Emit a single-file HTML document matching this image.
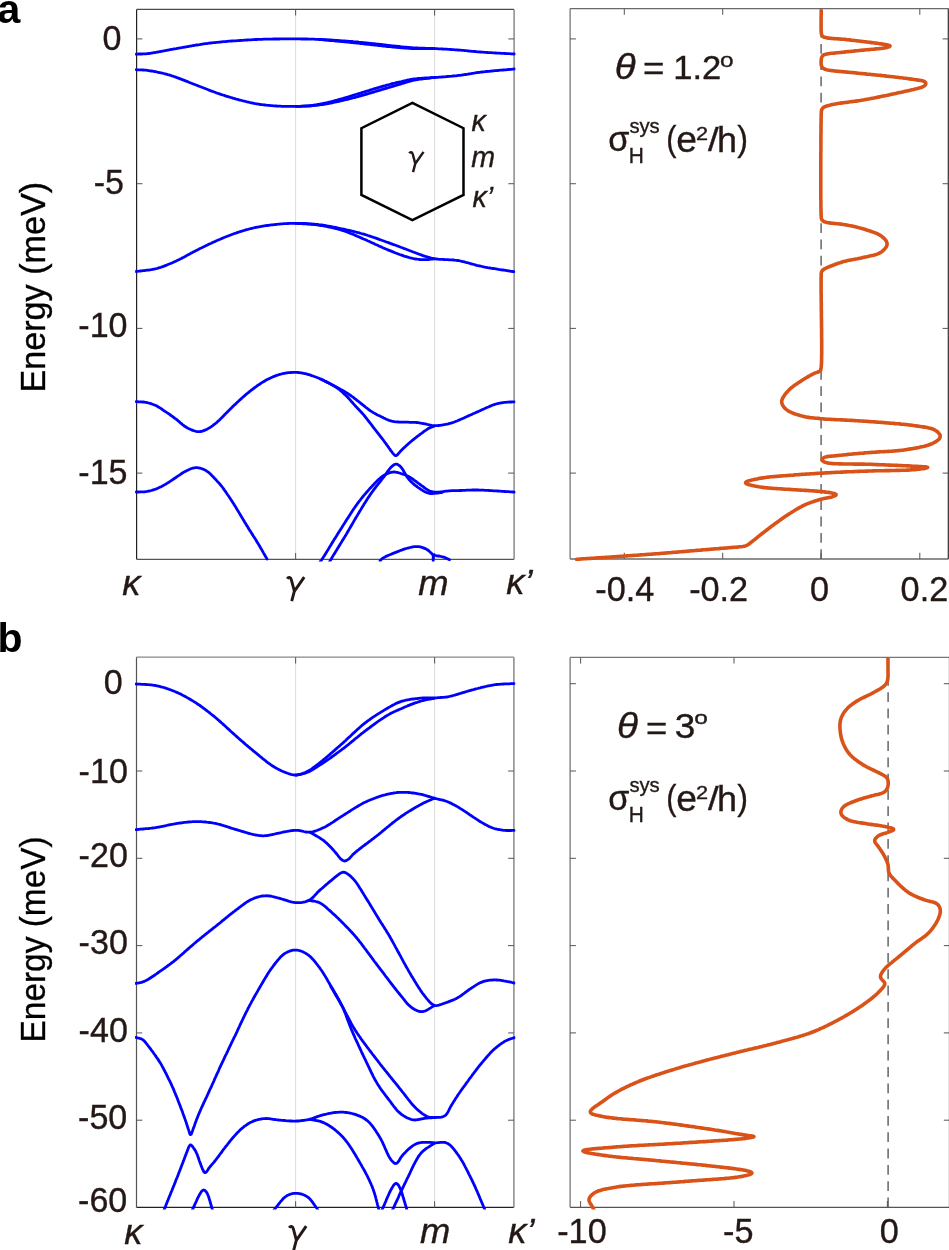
<!DOCTYPE html>
<html><head><meta charset="utf-8"><style>
html,body{margin:0;padding:0;background:#fff;}
svg{display:block;will-change:transform;}
text{font-family:"Liberation Sans",sans-serif;fill:#231815;stroke:#231815;stroke-width:0.35px;}
</style></head><body>
<svg width="949" height="1250" viewBox="0 0 949 1250">
<defs><clipPath id="clipAL"><rect x="135.1" y="10.0" width="380.5" height="551.4"/></clipPath><clipPath id="clipAR"><rect x="568.6" y="9.2" width="381.29999999999995" height="551.9"/></clipPath><clipPath id="clipBL"><rect x="135.0" y="657.8000000000001" width="380.4" height="551.7"/></clipPath><clipPath id="clipBR"><rect x="568.6" y="658.0" width="382.5" height="551.4"/></clipPath></defs>
<rect width="949" height="1250" fill="#fff"/>
<line x1="295.6" y1="9.4" x2="295.6" y2="559.3" stroke="#dcdcdc" stroke-width="1"/>
<line x1="434.6" y1="9.4" x2="434.6" y2="559.3" stroke="#dcdcdc" stroke-width="1"/>
<line x1="295.6" y1="657.2" x2="295.6" y2="1207.4" stroke="#dcdcdc" stroke-width="1"/>
<line x1="434.6" y1="657.2" x2="434.6" y2="1207.4" stroke="#dcdcdc" stroke-width="1"/>
<line x1="821.1" y1="559.0" x2="821.1" y2="8.6" stroke="#5a5a5a" stroke-width="1.4" stroke-dasharray="9.8,6.5"/>
<line x1="888.1" y1="1207.3" x2="888.1" y2="657.4" stroke="#5a5a5a" stroke-width="1.4" stroke-dasharray="9.8,6.5"/>
<line x1="136.6" y1="9.4" x2="514.1" y2="9.4" stroke="#4a4a4a" stroke-width="1.2"/>
<line x1="136.6" y1="559.3" x2="514.1" y2="559.3" stroke="#555" stroke-width="1.3"/>
<line x1="514.1" y1="9.4" x2="514.1" y2="559.3" stroke="#8a8a8a" stroke-width="1.5"/>
<line x1="136.6" y1="9.4" x2="136.6" y2="559.3" stroke="#222" stroke-width="1.2"/>
<line x1="570.1" y1="8.6" x2="948.4" y2="8.6" stroke="#6a6a6a" stroke-width="1.2"/>
<line x1="570.1" y1="559.0" x2="948.4" y2="559.0" stroke="#6a6a6a" stroke-width="1.3"/>
<line x1="948.4" y1="8.6" x2="948.4" y2="559.0" stroke="#444" stroke-width="1.5"/>
<line x1="570.1" y1="8.6" x2="570.1" y2="559.0" stroke="#6a6a6a" stroke-width="1.2"/>
<line x1="136.5" y1="657.2" x2="513.9" y2="657.2" stroke="#888" stroke-width="1.2"/>
<line x1="136.5" y1="1207.4" x2="513.9" y2="1207.4" stroke="#222" stroke-width="1.3"/>
<line x1="513.9" y1="657.2" x2="513.9" y2="1207.4" stroke="#888" stroke-width="1.5"/>
<line x1="136.5" y1="657.2" x2="136.5" y2="1207.4" stroke="#555" stroke-width="1.2"/>
<line x1="570.1" y1="657.4" x2="949.6" y2="657.4" stroke="#777" stroke-width="1.2"/>
<line x1="570.1" y1="1207.3" x2="949.6" y2="1207.3" stroke="#555" stroke-width="1.3"/>
<line x1="949.6" y1="657.4" x2="949.6" y2="1207.3" stroke="#555" stroke-width="1.5"/>
<line x1="570.1" y1="657.4" x2="570.1" y2="1207.3" stroke="#6a6a6a" stroke-width="1.2"/>
<line x1="136.6" y1="38.9" x2="142.4" y2="38.9" stroke="#5a5a5a" stroke-width="1.05"/>
<line x1="514.1" y1="38.9" x2="508.3" y2="38.9" stroke="#5a5a5a" stroke-width="1.05"/>
<line x1="136.6" y1="183.7" x2="142.4" y2="183.7" stroke="#5a5a5a" stroke-width="1.05"/>
<line x1="514.1" y1="183.7" x2="508.3" y2="183.7" stroke="#5a5a5a" stroke-width="1.05"/>
<line x1="136.6" y1="328.4" x2="142.4" y2="328.4" stroke="#5a5a5a" stroke-width="1.05"/>
<line x1="514.1" y1="328.4" x2="508.3" y2="328.4" stroke="#5a5a5a" stroke-width="1.05"/>
<line x1="136.6" y1="473.1" x2="142.4" y2="473.1" stroke="#5a5a5a" stroke-width="1.05"/>
<line x1="514.1" y1="473.1" x2="508.3" y2="473.1" stroke="#5a5a5a" stroke-width="1.05"/>
<line x1="570.1" y1="38.9" x2="575.9" y2="38.9" stroke="#5a5a5a" stroke-width="1.05"/>
<line x1="948.4" y1="38.9" x2="942.6" y2="38.9" stroke="#5a5a5a" stroke-width="1.05"/>
<line x1="570.1" y1="183.7" x2="575.9" y2="183.7" stroke="#5a5a5a" stroke-width="1.05"/>
<line x1="948.4" y1="183.7" x2="942.6" y2="183.7" stroke="#5a5a5a" stroke-width="1.05"/>
<line x1="570.1" y1="328.4" x2="575.9" y2="328.4" stroke="#5a5a5a" stroke-width="1.05"/>
<line x1="948.4" y1="328.4" x2="942.6" y2="328.4" stroke="#5a5a5a" stroke-width="1.05"/>
<line x1="570.1" y1="473.1" x2="575.9" y2="473.1" stroke="#5a5a5a" stroke-width="1.05"/>
<line x1="948.4" y1="473.1" x2="942.6" y2="473.1" stroke="#5a5a5a" stroke-width="1.05"/>
<line x1="295.6" y1="9.4" x2="295.6" y2="15.600000000000001" stroke="#5a5a5a" stroke-width="1.05"/>
<line x1="295.6" y1="559.3" x2="295.6" y2="553.0999999999999" stroke="#5a5a5a" stroke-width="1.05"/>
<line x1="434.6" y1="9.4" x2="434.6" y2="15.600000000000001" stroke="#5a5a5a" stroke-width="1.05"/>
<line x1="434.6" y1="559.3" x2="434.6" y2="553.0999999999999" stroke="#5a5a5a" stroke-width="1.05"/>
<line x1="624.3" y1="8.6" x2="624.3" y2="14.8" stroke="#5a5a5a" stroke-width="1.05"/>
<line x1="624.3" y1="559.0" x2="624.3" y2="552.8" stroke="#5a5a5a" stroke-width="1.05"/>
<line x1="722.7" y1="8.6" x2="722.7" y2="14.8" stroke="#5a5a5a" stroke-width="1.05"/>
<line x1="722.7" y1="559.0" x2="722.7" y2="552.8" stroke="#5a5a5a" stroke-width="1.05"/>
<line x1="821.0" y1="8.6" x2="821.0" y2="14.8" stroke="#5a5a5a" stroke-width="1.05"/>
<line x1="821.0" y1="559.0" x2="821.0" y2="552.8" stroke="#5a5a5a" stroke-width="1.05"/>
<line x1="919.8" y1="8.6" x2="919.8" y2="14.8" stroke="#5a5a5a" stroke-width="1.05"/>
<line x1="919.8" y1="559.0" x2="919.8" y2="552.8" stroke="#5a5a5a" stroke-width="1.05"/>
<line x1="136.5" y1="683.7" x2="142.3" y2="683.7" stroke="#5a5a5a" stroke-width="1.05"/>
<line x1="513.9" y1="683.7" x2="508.09999999999997" y2="683.7" stroke="#5a5a5a" stroke-width="1.05"/>
<line x1="136.5" y1="771.0" x2="142.3" y2="771.0" stroke="#5a5a5a" stroke-width="1.05"/>
<line x1="513.9" y1="771.0" x2="508.09999999999997" y2="771.0" stroke="#5a5a5a" stroke-width="1.05"/>
<line x1="136.5" y1="858.3" x2="142.3" y2="858.3" stroke="#5a5a5a" stroke-width="1.05"/>
<line x1="513.9" y1="858.3" x2="508.09999999999997" y2="858.3" stroke="#5a5a5a" stroke-width="1.05"/>
<line x1="136.5" y1="945.6" x2="142.3" y2="945.6" stroke="#5a5a5a" stroke-width="1.05"/>
<line x1="513.9" y1="945.6" x2="508.09999999999997" y2="945.6" stroke="#5a5a5a" stroke-width="1.05"/>
<line x1="136.5" y1="1032.9" x2="142.3" y2="1032.9" stroke="#5a5a5a" stroke-width="1.05"/>
<line x1="513.9" y1="1032.9" x2="508.09999999999997" y2="1032.9" stroke="#5a5a5a" stroke-width="1.05"/>
<line x1="136.5" y1="1120.2" x2="142.3" y2="1120.2" stroke="#5a5a5a" stroke-width="1.05"/>
<line x1="513.9" y1="1120.2" x2="508.09999999999997" y2="1120.2" stroke="#5a5a5a" stroke-width="1.05"/>
<line x1="570.1" y1="683.7" x2="575.9" y2="683.7" stroke="#5a5a5a" stroke-width="1.05"/>
<line x1="949.6" y1="683.7" x2="943.8000000000001" y2="683.7" stroke="#5a5a5a" stroke-width="1.05"/>
<line x1="570.1" y1="771.0" x2="575.9" y2="771.0" stroke="#5a5a5a" stroke-width="1.05"/>
<line x1="949.6" y1="771.0" x2="943.8000000000001" y2="771.0" stroke="#5a5a5a" stroke-width="1.05"/>
<line x1="570.1" y1="858.3" x2="575.9" y2="858.3" stroke="#5a5a5a" stroke-width="1.05"/>
<line x1="949.6" y1="858.3" x2="943.8000000000001" y2="858.3" stroke="#5a5a5a" stroke-width="1.05"/>
<line x1="570.1" y1="945.6" x2="575.9" y2="945.6" stroke="#5a5a5a" stroke-width="1.05"/>
<line x1="949.6" y1="945.6" x2="943.8000000000001" y2="945.6" stroke="#5a5a5a" stroke-width="1.05"/>
<line x1="570.1" y1="1032.9" x2="575.9" y2="1032.9" stroke="#5a5a5a" stroke-width="1.05"/>
<line x1="949.6" y1="1032.9" x2="943.8000000000001" y2="1032.9" stroke="#5a5a5a" stroke-width="1.05"/>
<line x1="570.1" y1="1120.2" x2="575.9" y2="1120.2" stroke="#5a5a5a" stroke-width="1.05"/>
<line x1="949.6" y1="1120.2" x2="943.8000000000001" y2="1120.2" stroke="#5a5a5a" stroke-width="1.05"/>
<line x1="295.6" y1="657.2" x2="295.6" y2="663.4000000000001" stroke="#5a5a5a" stroke-width="1.05"/>
<line x1="295.6" y1="1207.4" x2="295.6" y2="1201.2" stroke="#5a5a5a" stroke-width="1.05"/>
<line x1="434.6" y1="657.2" x2="434.6" y2="663.4000000000001" stroke="#5a5a5a" stroke-width="1.05"/>
<line x1="434.6" y1="1207.4" x2="434.6" y2="1201.2" stroke="#5a5a5a" stroke-width="1.05"/>
<line x1="580.6" y1="657.4" x2="580.6" y2="663.6" stroke="#5a5a5a" stroke-width="1.05"/>
<line x1="580.6" y1="1207.3" x2="580.6" y2="1201.1" stroke="#5a5a5a" stroke-width="1.05"/>
<line x1="734.0" y1="657.4" x2="734.0" y2="663.6" stroke="#5a5a5a" stroke-width="1.05"/>
<line x1="734.0" y1="1207.3" x2="734.0" y2="1201.1" stroke="#5a5a5a" stroke-width="1.05"/>
<line x1="887.4" y1="657.4" x2="887.4" y2="663.6" stroke="#5a5a5a" stroke-width="1.05"/>
<line x1="887.4" y1="1207.3" x2="887.4" y2="1201.1" stroke="#5a5a5a" stroke-width="1.05"/>
<g clip-path="url(#clipAL)"><path d="M136.0,54.1 L137.4,54.1 L138.8,54.0 L140.2,54.0 L141.6,54.0 L143.0,53.9 L144.4,53.8 L145.8,53.8 L147.2,53.6 L148.6,53.5 L150.0,53.3 L151.4,53.1 L152.7,52.9 L154.1,52.7 L155.5,52.5 L156.9,52.2 L158.3,52.0 L159.6,51.7 L161.0,51.5 L162.4,51.2 L163.8,50.9 L165.1,50.7 L166.5,50.4 L167.9,50.1 L169.2,49.8 L170.6,49.5 L172.0,49.3 L173.4,49.0 L174.8,48.8 L176.1,48.6 L177.5,48.3 L178.9,48.1 L180.3,47.9 L181.7,47.7 L183.0,47.4 L184.4,47.2 L185.8,47.0 L187.2,46.7 L188.6,46.5 L189.9,46.2 L191.3,46.0 L192.7,45.7 L194.1,45.5 L195.5,45.2 L196.8,45.0 L198.2,44.8 L199.6,44.6 L201.0,44.3 L202.4,44.1 L203.7,43.9 L205.1,43.7 L206.5,43.6 L207.9,43.4 L209.3,43.2 L210.7,43.0 L212.1,42.9 L213.5,42.7 L214.9,42.6 L216.3,42.4 L217.6,42.3 L219.0,42.1 L220.4,42.0 L221.8,41.8 L223.2,41.7 L224.6,41.6 L226.0,41.5 L227.4,41.3 L228.8,41.2 L230.2,41.1 L231.6,41.0 L233.0,40.9 L234.4,40.9 L235.8,40.8 L237.2,40.7 L238.6,40.6 L240.0,40.5 L241.4,40.4 L242.8,40.3 L244.2,40.2 L245.6,40.1 L247.0,40.0 L248.4,39.9 L249.8,39.8 L251.2,39.8 L252.5,39.7 L253.9,39.6 L255.3,39.5 L256.7,39.5 L258.1,39.4 L259.5,39.4 L260.9,39.3 L262.3,39.3 L263.7,39.2 L265.1,39.2 L266.5,39.2 L267.9,39.1 L269.3,39.1 L270.7,39.1 L272.1,39.1 L273.5,39.0 L274.9,39.0 L276.3,39.0 L277.7,39.0 L279.1,39.0 L280.5,38.9 L281.9,38.9 L283.3,38.9 L284.7,38.9 L286.1,38.9 L287.5,38.9 L288.9,38.9 L290.3,38.9 L291.7,38.9 L293.1,38.9 L294.5,38.9 L295.9,38.9 L297.3,38.9 L298.7,38.9 L300.1,38.9 L301.5,39.0 L302.9,39.0 L304.3,39.0 L305.7,39.0 L307.1,39.0 L308.5,39.1 L309.9,39.1 L311.3,39.1 L312.7,39.2 L314.1,39.2 L315.5,39.3 L316.9,39.3 L318.3,39.4 L319.7,39.4 L321.1,39.5 L322.5,39.6 L323.9,39.6 L325.3,39.7 L326.7,39.8 L328.1,39.8 L329.5,39.9 L330.9,40.0 L332.3,40.1 L333.7,40.2 L335.1,40.3 L336.5,40.4 L337.9,40.5 L339.3,40.6 L340.7,40.7 L342.1,40.8 L343.5,40.9 L344.9,41.0 L346.3,41.1 L347.7,41.2 L349.1,41.3 L350.5,41.4 L351.9,41.5 L353.3,41.7 L354.6,41.8 L356.0,41.9 L357.4,42.0 L358.8,42.2 L360.2,42.3 L361.6,42.4 L363.0,42.6 L364.4,42.7 L365.8,42.8 L367.2,43.0 L368.6,43.1 L370.0,43.3 L371.4,43.4 L372.8,43.6 L374.1,43.7 L375.5,43.9 L376.9,44.1 L378.3,44.2 L379.7,44.4 L381.1,44.5 L382.5,44.7 L383.9,44.9 L385.3,45.0 L386.7,45.2 L388.1,45.3 L389.4,45.5 L390.8,45.6 L392.2,45.8 L393.6,45.9 L395.0,46.1 L396.4,46.2 L397.8,46.4 L399.2,46.5 L400.6,46.7 L402.0,46.8 L403.4,47.0 L404.8,47.1 L406.2,47.2 L407.6,47.4 L408.9,47.5 L410.3,47.6 L411.7,47.7 L413.1,47.8 L414.5,47.9 L415.9,47.9 L417.3,48.0 L418.7,48.1 L420.1,48.1 L421.5,48.2 L422.9,48.2 L424.3,48.2 L425.7,48.3 L427.1,48.3 L428.5,48.4 L429.9,48.4 L431.3,48.5 L432.7,48.5 L434.1,48.6 L435.5,48.6 L436.9,48.7 L438.3,48.8 L439.7,48.9 L441.1,48.9 L442.5,49.0 L443.9,49.1 L445.3,49.2 L446.7,49.2 L448.1,49.3 L449.5,49.4 L450.9,49.5 L452.3,49.6 L453.7,49.7 L455.1,49.8 L456.5,49.9 L457.9,50.0 L459.3,50.1 L460.7,50.2 L462.1,50.3 L463.5,50.4 L464.9,50.6 L466.2,50.7 L467.6,50.8 L469.0,51.0 L470.4,51.1 L471.8,51.3 L473.2,51.4 L474.6,51.5 L476.0,51.6 L477.4,51.8 L478.8,51.9 L480.2,52.0 L481.6,52.1 L483.0,52.2 L484.4,52.3 L485.8,52.4 L487.2,52.5 L488.6,52.6 L490.0,52.7 L491.4,52.7 L492.8,52.8 L494.2,52.9 L495.6,53.0 L497.0,53.1 L498.4,53.1 L499.7,53.2 L501.1,53.3 L502.5,53.4 L503.9,53.4 L505.3,53.5 L506.7,53.6 L508.1,53.7 L509.5,53.7 L510.9,53.8 L512.3,53.9 L513.7,54.0 L514.4,54.0" fill="none" stroke="#0000ff" stroke-width="2.8" stroke-linejoin="round" stroke-linecap="round"/></g>
<g clip-path="url(#clipAL)"><path d="M319.2,39.5 L320.6,39.6 L322.0,39.7 L323.4,39.9 L324.8,40.0 L326.2,40.1 L327.6,40.2 L329.0,40.4 L330.4,40.5 L331.8,40.6 L333.1,40.7 L334.5,40.9 L335.9,41.0 L337.3,41.1 L338.7,41.3 L340.1,41.4 L341.5,41.5 L342.9,41.7 L344.3,41.8 L345.7,41.9 L347.1,42.1 L348.5,42.2 L349.9,42.3 L351.3,42.5 L352.7,42.6 L354.0,42.8 L355.4,42.9 L356.8,43.1 L358.2,43.2 L359.6,43.4 L361.0,43.5 L362.4,43.7 L363.8,43.8 L365.2,44.0 L366.6,44.1 L368.0,44.3 L369.4,44.4 L370.7,44.6 L372.1,44.8 L373.5,44.9 L374.9,45.1 L376.3,45.2 L377.7,45.4 L379.1,45.6 L380.5,45.7 L381.9,45.9 L383.3,46.0 L384.7,46.2 L386.0,46.3 L387.4,46.5 L388.8,46.6 L390.2,46.7 L391.6,46.9 L393.0,47.0 L394.4,47.2 L395.8,47.3 L397.2,47.4 L398.6,47.5 L400.0,47.7 L401.4,47.8 L402.8,47.9 L404.2,48.0 L405.6,48.1 L407.0,48.2 L408.4,48.3 L409.8,48.4 L411.2,48.5 L412.6,48.5 L414.0,48.6 L415.4,48.6 L416.8,48.6 L418.2,48.6 L419.6,48.7 L421.0,48.7 L422.4,48.7 L423.8,48.7 L425.2,48.6 L426.6,48.6 L428.0,48.6 L429.4,48.6 L430.8,48.6 L432.2,48.6 L433.6,48.6 L434.3,48.6" fill="none" stroke="#0000ff" stroke-width="2.8" stroke-linejoin="round" stroke-linecap="round"/></g>
<g clip-path="url(#clipAL)"><path d="M136.0,69.7 L137.4,69.8 L138.8,69.8 L140.2,69.9 L141.6,69.9 L143.0,70.0 L144.4,70.1 L145.8,70.2 L147.2,70.4 L148.6,70.6 L149.9,70.8 L151.3,71.0 L152.7,71.2 L154.1,71.5 L155.5,71.7 L156.8,72.0 L158.2,72.3 L159.6,72.6 L160.9,72.9 L162.3,73.2 L163.7,73.5 L165.0,73.8 L166.4,74.2 L167.7,74.6 L169.1,74.9 L170.4,75.3 L171.8,75.8 L173.1,76.2 L174.4,76.7 L175.7,77.1 L177.0,77.6 L178.4,78.1 L179.7,78.6 L181.0,79.1 L182.3,79.6 L183.6,80.1 L184.9,80.6 L186.2,81.1 L187.5,81.6 L188.8,82.2 L190.1,82.7 L191.4,83.2 L192.7,83.7 L194.0,84.2 L195.3,84.7 L196.6,85.2 L197.9,85.7 L199.2,86.3 L200.5,86.8 L201.8,87.3 L203.1,87.8 L204.4,88.3 L205.7,88.8 L207.0,89.3 L208.3,89.8 L209.6,90.4 L211.0,90.9 L212.3,91.3 L213.6,91.8 L214.9,92.3 L216.2,92.8 L217.5,93.2 L218.9,93.7 L220.2,94.1 L221.5,94.6 L222.8,95.0 L224.2,95.4 L225.5,95.9 L226.8,96.3 L228.2,96.7 L229.5,97.1 L230.9,97.5 L232.2,97.9 L233.5,98.3 L234.9,98.7 L236.2,99.1 L237.6,99.4 L238.9,99.8 L240.3,100.2 L241.7,100.5 L243.0,100.9 L244.4,101.2 L245.7,101.5 L247.1,101.9 L248.5,102.2 L249.8,102.5 L251.2,102.8 L252.6,103.0 L253.9,103.3 L255.3,103.6 L256.7,103.8 L258.1,104.0 L259.5,104.3 L260.8,104.5 L262.2,104.6 L263.6,104.8 L265.0,105.0 L266.4,105.2 L267.8,105.3 L269.2,105.4 L270.6,105.6 L272.0,105.7 L273.4,105.8 L274.8,105.9 L276.2,106.0 L277.6,106.1 L279.0,106.2 L280.4,106.2 L281.7,106.3 L283.1,106.3 L284.5,106.4 L285.9,106.4 L287.3,106.4 L288.7,106.4 L290.1,106.4 L291.5,106.4 L292.9,106.4 L294.3,106.4 L295.7,106.4 L297.1,106.4 L298.5,106.3 L299.9,106.3 L301.3,106.2 L302.7,106.2 L304.1,106.1 L305.5,106.0 L306.9,105.9 L308.3,105.8 L309.7,105.6 L311.1,105.5 L312.5,105.3 L313.9,105.1 L315.3,104.9 L316.7,104.7 L318.0,104.4 L319.4,104.2 L320.8,103.9 L322.2,103.7 L323.5,103.4 L324.9,103.1 L326.3,102.8 L327.6,102.5 L329.0,102.2 L330.4,101.9 L331.7,101.5 L333.1,101.2 L334.4,100.8 L335.8,100.4 L337.1,100.1 L338.5,99.7 L339.8,99.3 L341.2,98.9 L342.5,98.6 L343.9,98.2 L345.2,97.8 L346.6,97.4 L347.9,97.0 L349.2,96.6 L350.6,96.2 L351.9,95.7 L353.2,95.3 L354.6,94.9 L355.9,94.5 L357.3,94.1 L358.6,93.7 L359.9,93.3 L361.3,92.9 L362.6,92.4 L363.9,92.0 L365.3,91.6 L366.6,91.2 L368.0,90.8 L369.3,90.4 L370.6,89.9 L372.0,89.5 L373.3,89.1 L374.6,88.7 L376.0,88.3 L377.3,87.9 L378.7,87.5 L380.0,87.1 L381.4,86.7 L382.7,86.3 L384.0,85.9 L385.4,85.6 L386.7,85.2 L388.1,84.8 L389.4,84.5 L390.8,84.1 L392.2,83.7 L393.5,83.4 L394.9,83.1 L396.2,82.7 L397.6,82.4 L399.0,82.1 L400.3,81.8 L401.7,81.5 L403.0,81.1 L404.4,80.8 L405.8,80.5 L407.1,80.2 L408.5,80.0 L409.9,79.7 L411.3,79.4 L412.7,79.2 L414.0,79.0 L415.4,78.8 L416.8,78.7 L418.2,78.5 L419.6,78.4 L421.0,78.3 L422.4,78.2 L423.8,78.1 L425.2,78.0 L426.6,77.9 L428.0,77.9 L429.4,77.8 L430.8,77.7 L432.2,77.6 L433.6,77.6 L435.0,77.5 L436.4,77.4 L437.8,77.3 L439.2,77.2 L440.6,77.1 L442.0,77.0 L443.4,76.9 L444.7,76.8 L446.1,76.6 L447.5,76.5 L448.9,76.4 L450.3,76.3 L451.7,76.2 L453.1,76.0 L454.5,75.9 L455.9,75.8 L457.3,75.6 L458.7,75.4 L460.1,75.3 L461.5,75.1 L462.9,74.9 L464.2,74.7 L465.6,74.5 L467.0,74.3 L468.4,74.0 L469.8,73.8 L471.1,73.6 L472.5,73.4 L473.9,73.2 L475.3,72.9 L476.7,72.7 L478.1,72.5 L479.5,72.4 L480.8,72.2 L482.2,72.0 L483.6,71.8 L485.0,71.7 L486.4,71.5 L487.8,71.4 L489.2,71.3 L490.6,71.1 L492.0,71.0 L493.4,70.9 L494.8,70.7 L496.2,70.6 L497.6,70.5 L499.0,70.4 L500.3,70.2 L501.7,70.1 L503.1,70.0 L504.5,69.9 L505.9,69.8 L507.3,69.6 L508.7,69.5 L510.1,69.4 L511.5,69.3 L512.9,69.1 L514.3,69.0" fill="none" stroke="#0000ff" stroke-width="2.8" stroke-linejoin="round" stroke-linecap="round"/></g>
<g clip-path="url(#clipAL)"><path d="M296.0,106.4 L297.4,106.4 L298.8,106.3 L300.2,106.3 L301.6,106.3 L303.0,106.2 L304.4,106.2 L305.8,106.2 L307.2,106.1 L308.6,106.0 L310.0,106.0 L311.4,105.8 L312.8,105.7 L314.2,105.6 L315.6,105.4 L317.0,105.3 L318.3,105.1 L319.7,104.9 L321.1,104.7 L322.5,104.5 L323.9,104.3 L325.3,104.0 L326.6,103.8 L328.0,103.6 L329.4,103.3 L330.8,103.0 L332.1,102.8 L333.5,102.5 L334.9,102.2 L336.3,101.9 L337.6,101.6 L339.0,101.3 L340.4,101.0 L341.7,100.7 L343.1,100.4 L344.5,100.0 L345.8,99.7 L347.2,99.4 L348.5,99.1 L349.9,98.7 L351.2,98.4 L352.6,98.0 L354.0,97.7 L355.3,97.3 L356.7,97.0 L358.0,96.6 L359.4,96.2 L360.7,95.8 L362.1,95.4 L363.4,95.1 L364.7,94.7 L366.1,94.3 L367.4,93.9 L368.8,93.5 L370.1,93.1 L371.5,92.7 L372.8,92.3 L374.2,91.9 L375.5,91.5 L376.8,91.1 L378.2,90.7 L379.5,90.3 L380.9,89.9 L382.2,89.5 L383.5,89.1 L384.9,88.7 L386.2,88.3 L387.6,87.9 L388.9,87.5 L390.2,87.1 L391.6,86.7 L392.9,86.3 L394.3,85.9 L395.6,85.5 L397.0,85.1 L398.3,84.7 L399.6,84.3 L401.0,83.9 L402.3,83.5 L403.7,83.1 L405.0,82.7 L406.3,82.2 L407.7,81.8 L409.0,81.5 L410.4,81.1 L411.7,80.7 L413.1,80.4 L414.5,80.1 L415.8,79.9 L417.2,79.6 L418.6,79.4 L420.0,79.2 L421.4,79.1 L422.8,78.9 L424.2,78.7 L425.5,78.6 L426.9,78.4 L428.3,78.3 L429.7,78.1 L431.1,77.9 L432.5,77.7 L433.9,77.6 L434.6,77.5" fill="none" stroke="#0000ff" stroke-width="2.8" stroke-linejoin="round" stroke-linecap="round"/></g>
<g clip-path="url(#clipAL)"><path d="M136.0,271.5 L137.4,271.3 L138.8,271.2 L140.2,271.0 L141.6,270.9 L143.0,270.7 L144.3,270.6 L145.7,270.4 L147.1,270.2 L148.5,270.1 L149.9,269.9 L151.3,269.7 L152.7,269.4 L154.0,269.1 L155.4,268.8 L156.8,268.5 L158.1,268.1 L159.4,267.7 L160.8,267.3 L162.1,266.8 L163.4,266.4 L164.7,265.9 L166.0,265.4 L167.3,264.8 L168.6,264.3 L169.9,263.8 L171.2,263.2 L172.5,262.7 L173.8,262.1 L175.1,261.5 L176.3,260.9 L177.6,260.3 L178.9,259.7 L180.1,259.1 L181.4,258.5 L182.6,257.8 L183.8,257.2 L185.1,256.5 L186.3,255.8 L187.5,255.1 L188.7,254.5 L190.0,253.8 L191.2,253.1 L192.4,252.5 L193.7,251.8 L194.9,251.2 L196.2,250.5 L197.4,249.9 L198.7,249.3 L199.9,248.6 L201.2,248.0 L202.4,247.4 L203.7,246.8 L204.9,246.2 L206.2,245.6 L207.5,244.9 L208.7,244.3 L210.0,243.7 L211.3,243.2 L212.5,242.6 L213.8,242.0 L215.1,241.4 L216.4,240.8 L217.6,240.3 L218.9,239.7 L220.2,239.2 L221.5,238.6 L222.8,238.1 L224.1,237.5 L225.4,237.0 L226.7,236.5 L228.0,236.0 L229.3,235.5 L230.6,235.0 L231.9,234.5 L233.2,234.0 L234.5,233.5 L235.8,233.1 L237.2,232.6 L238.5,232.2 L239.8,231.7 L241.2,231.3 L242.5,230.9 L243.9,230.5 L245.2,230.1 L246.5,229.7 L247.9,229.4 L249.2,229.0 L250.6,228.7 L252.0,228.3 L253.3,228.0 L254.7,227.7 L256.1,227.4 L257.4,227.1 L258.8,226.8 L260.2,226.6 L261.6,226.3 L262.9,226.1 L264.3,225.9 L265.7,225.7 L267.1,225.5 L268.5,225.3 L269.9,225.1 L271.3,224.9 L272.6,224.8 L274.0,224.6 L275.4,224.5 L276.8,224.3 L278.2,224.2 L279.6,224.1 L281.0,223.9 L282.4,223.8 L283.8,223.7 L285.2,223.6 L286.6,223.6 L288.0,223.5 L289.4,223.4 L290.8,223.4 L292.2,223.3 L293.6,223.3 L295.0,223.3 L296.4,223.3 L297.8,223.3 L299.2,223.3 L300.6,223.4 L302.0,223.4 L303.4,223.5 L304.8,223.5 L306.2,223.6 L307.6,223.7 L309.0,223.8 L310.4,223.9 L311.8,224.0 L313.2,224.1 L314.6,224.2 L315.9,224.3 L317.3,224.5 L318.7,224.7 L320.1,224.8 L321.5,225.0 L322.9,225.2 L324.3,225.4 L325.7,225.6 L327.0,225.9 L328.4,226.1 L329.8,226.3 L331.2,226.6 L332.6,226.9 L333.9,227.1 L335.3,227.4 L336.7,227.7 L338.0,228.0 L339.4,228.3 L340.8,228.6 L342.1,228.8 L343.5,229.1 L344.9,229.4 L346.3,229.8 L347.6,230.1 L349.0,230.4 L350.3,230.7 L351.7,231.0 L353.1,231.3 L354.4,231.7 L355.8,232.0 L357.1,232.4 L358.5,232.7 L359.8,233.1 L361.2,233.5 L362.5,233.8 L363.9,234.2 L365.2,234.6 L366.6,235.0 L367.9,235.5 L369.2,235.9 L370.6,236.3 L371.9,236.8 L373.2,237.2 L374.5,237.7 L375.9,238.1 L377.2,238.6 L378.5,239.1 L379.8,239.6 L381.1,240.0 L382.4,240.5 L383.8,241.0 L385.1,241.5 L386.4,242.0 L387.7,242.4 L389.0,242.9 L390.3,243.4 L391.7,243.9 L393.0,244.4 L394.3,244.8 L395.6,245.3 L396.9,245.8 L398.2,246.3 L399.5,246.8 L400.8,247.3 L402.2,247.8 L403.5,248.3 L404.8,248.7 L406.1,249.2 L407.4,249.7 L408.7,250.2 L410.0,250.7 L411.3,251.2 L412.6,251.7 L414.0,252.2 L415.3,252.7 L416.6,253.2 L417.9,253.7 L419.2,254.2 L420.5,254.7 L421.8,255.1 L423.1,255.6 L424.5,256.1 L425.8,256.5 L427.1,256.9 L428.5,257.3 L429.8,257.7 L431.2,258.1 L432.5,258.4 L433.9,258.7 L435.3,258.9 L436.7,259.0 L438.1,259.2 L439.5,259.3 L440.9,259.4 L442.3,259.4 L443.7,259.5 L445.1,259.6 L446.5,259.6 L447.9,259.7 L449.2,259.8 L450.6,259.8 L452.0,259.9 L453.4,260.0 L454.8,260.2 L456.2,260.3 L457.6,260.5 L459.0,260.7 L460.4,261.0 L461.7,261.3 L463.1,261.6 L464.5,261.9 L465.8,262.3 L467.2,262.6 L468.5,263.0 L469.9,263.4 L471.2,263.8 L472.6,264.2 L473.9,264.5 L475.3,264.9 L476.6,265.3 L478.0,265.6 L479.3,265.9 L480.7,266.2 L482.1,266.5 L483.4,266.8 L484.8,267.1 L486.2,267.3 L487.6,267.6 L488.9,267.8 L490.3,268.0 L491.7,268.3 L493.1,268.5 L494.5,268.7 L495.9,268.9 L497.2,269.1 L498.6,269.4 L500.0,269.6 L501.4,269.8 L502.8,270.0 L504.2,270.2 L505.5,270.4 L506.9,270.6 L508.3,270.8 L509.7,271.0 L511.1,271.3 L512.5,271.5 L513.8,271.7" fill="none" stroke="#0000ff" stroke-width="2.8" stroke-linejoin="round" stroke-linecap="round"/></g>
<g clip-path="url(#clipAL)"><path d="M296.0,223.3 L297.4,223.4 L298.8,223.5 L300.2,223.6 L301.6,223.7 L303.0,223.8 L304.4,223.9 L305.8,223.9 L307.2,224.0 L308.6,224.1 L310.0,224.2 L311.4,224.3 L312.8,224.4 L314.2,224.6 L315.5,224.7 L316.9,224.9 L318.3,225.1 L319.7,225.3 L321.1,225.5 L322.5,225.7 L323.9,226.0 L325.2,226.2 L326.6,226.5 L328.0,226.8 L329.3,227.0 L330.7,227.3 L332.1,227.6 L333.4,228.0 L334.8,228.3 L336.2,228.6 L337.5,229.0 L338.9,229.4 L340.2,229.7 L341.6,230.2 L342.9,230.6 L344.2,231.0 L345.5,231.5 L346.9,231.9 L348.2,232.4 L349.5,232.9 L350.8,233.5 L352.1,234.0 L353.4,234.5 L354.7,235.1 L355.9,235.6 L357.2,236.2 L358.5,236.7 L359.8,237.3 L361.1,237.9 L362.3,238.4 L363.6,239.0 L364.9,239.5 L366.2,240.1 L367.5,240.7 L368.8,241.2 L370.0,241.8 L371.3,242.4 L372.6,243.0 L373.9,243.6 L375.1,244.2 L376.4,244.8 L377.7,245.3 L378.9,245.9 L380.2,246.5 L381.5,247.1 L382.8,247.7 L384.0,248.2 L385.3,248.8 L386.6,249.3 L387.9,249.9 L389.2,250.4 L390.5,250.9 L391.8,251.4 L393.1,251.9 L394.4,252.5 L395.7,253.0 L397.0,253.5 L398.3,254.0 L399.6,254.5 L401.0,254.9 L402.3,255.4 L403.6,255.9 L404.9,256.3 L406.3,256.7 L407.6,257.1 L408.9,257.5 L410.3,257.9 L411.7,258.2 L413.0,258.5 L414.4,258.8 L415.8,259.0 L417.2,259.2 L418.6,259.3 L419.9,259.5 L421.3,259.6 L422.7,259.6 L424.1,259.7 L425.5,259.7 L426.9,259.6 L428.3,259.6 L429.7,259.4 L431.1,259.2 L432.5,259.1 L433.9,258.9 L434.6,258.8" fill="none" stroke="#0000ff" stroke-width="2.8" stroke-linejoin="round" stroke-linecap="round"/></g>
<g clip-path="url(#clipAL)"><path d="M136.0,401.6 L137.4,401.7 L138.8,401.8 L140.2,401.8 L141.6,401.9 L143.0,402.0 L144.4,402.2 L145.8,402.4 L147.1,402.7 L148.5,403.0 L149.8,403.3 L151.2,403.7 L152.5,404.2 L153.8,404.7 L155.1,405.2 L156.4,405.8 L157.6,406.5 L158.8,407.2 L160.0,407.9 L161.2,408.7 L162.3,409.5 L163.5,410.3 L164.6,411.1 L165.8,411.9 L166.9,412.6 L168.1,413.4 L169.3,414.2 L170.4,415.0 L171.5,415.8 L172.7,416.7 L173.8,417.5 L174.9,418.3 L176.1,419.2 L177.2,420.0 L178.2,420.9 L179.3,421.8 L180.3,422.8 L181.4,423.7 L182.5,424.6 L183.6,425.4 L184.7,426.3 L185.9,427.0 L187.1,427.7 L188.3,428.4 L189.6,429.0 L190.9,429.6 L192.2,430.1 L193.5,430.6 L194.8,431.0 L196.1,431.4 L197.5,431.6 L198.9,431.6 L200.3,431.5 L201.7,431.3 L203.0,430.9 L204.3,430.4 L205.6,429.9 L206.9,429.3 L208.1,428.6 L209.3,427.9 L210.5,427.2 L211.7,426.4 L212.8,425.6 L213.9,424.7 L215.0,423.9 L216.1,423.0 L217.2,422.1 L218.2,421.1 L219.2,420.2 L220.2,419.2 L221.2,418.2 L222.2,417.2 L223.2,416.2 L224.1,415.2 L225.1,414.2 L226.1,413.2 L227.1,412.2 L228.1,411.2 L229.1,410.2 L230.1,409.2 L231.1,408.3 L232.1,407.3 L233.1,406.3 L234.1,405.3 L235.1,404.4 L236.1,403.4 L237.1,402.4 L238.2,401.5 L239.2,400.5 L240.2,399.6 L241.3,398.6 L242.3,397.7 L243.3,396.8 L244.4,395.9 L245.5,394.9 L246.5,394.0 L247.6,393.2 L248.7,392.3 L249.8,391.4 L250.9,390.5 L252.0,389.7 L253.1,388.8 L254.2,388.0 L255.4,387.1 L256.5,386.3 L257.6,385.5 L258.8,384.7 L260.0,384.0 L261.1,383.2 L262.3,382.4 L263.5,381.7 L264.7,381.0 L265.9,380.3 L267.2,379.6 L268.4,379.0 L269.6,378.4 L270.9,377.8 L272.2,377.2 L273.5,376.6 L274.8,376.1 L276.1,375.6 L277.4,375.2 L278.7,374.7 L280.1,374.3 L281.4,374.0 L282.8,373.7 L284.2,373.4 L285.5,373.1 L286.9,372.9 L288.3,372.7 L289.7,372.6 L291.1,372.5 L292.5,372.4 L293.9,372.4 L295.3,372.4 L296.7,372.4 L298.1,372.5 L299.5,372.6 L300.9,372.8 L302.3,373.0 L303.6,373.3 L305.0,373.6 L306.4,373.9 L307.7,374.3 L309.0,374.7 L310.4,375.1 L311.7,375.6 L313.0,376.0 L314.3,376.5 L315.7,377.0 L317.0,377.5 L318.3,378.0 L319.6,378.6 L320.8,379.1 L322.1,379.7 L323.4,380.3 L324.6,380.9 L325.9,381.5 L327.1,382.2 L328.4,382.8 L329.6,383.5 L330.9,384.1 L332.1,384.8 L333.3,385.4 L334.6,386.1 L335.8,386.7 L337.0,387.4 L338.3,388.1 L339.5,388.7 L340.7,389.4 L342.0,390.1 L343.2,390.8 L344.4,391.5 L345.6,392.2 L346.8,392.9 L348.0,393.7 L349.1,394.5 L350.3,395.2 L351.4,396.1 L352.6,396.9 L353.7,397.7 L354.8,398.6 L355.9,399.4 L357.0,400.3 L358.1,401.1 L359.2,402.0 L360.3,402.9 L361.4,403.8 L362.5,404.7 L363.6,405.5 L364.7,406.4 L365.7,407.3 L366.9,408.1 L368.0,409.0 L369.1,409.8 L370.2,410.7 L371.4,411.4 L372.6,412.2 L373.8,412.9 L375.0,413.6 L376.2,414.2 L377.5,414.9 L378.7,415.5 L380.0,416.1 L381.2,416.7 L382.5,417.3 L383.7,418.0 L385.0,418.6 L386.3,419.2 L387.6,419.7 L388.8,420.3 L390.2,420.7 L391.5,421.1 L392.9,421.4 L394.3,421.7 L395.6,421.8 L397.0,421.9 L398.4,422.0 L399.8,422.1 L401.2,422.1 L402.6,422.1 L404.0,422.1 L405.4,422.2 L406.8,422.2 L408.2,422.2 L409.6,422.3 L411.0,422.3 L412.4,422.3 L413.8,422.3 L415.2,422.4 L416.6,422.5 L418.0,422.6 L419.4,422.8 L420.8,423.1 L422.2,423.3 L423.5,423.6 L424.9,423.9 L426.3,424.2 L427.6,424.5 L429.0,424.8 L430.4,425.1 L431.7,425.4 L433.1,425.6 L434.5,425.7 L435.9,425.7 L437.3,425.7 L438.7,425.5 L440.1,425.3 L441.5,425.1 L442.8,424.9 L444.2,424.6 L445.6,424.4 L447.0,424.1 L448.3,423.8 L449.7,423.4 L451.0,423.1 L452.4,422.7 L453.7,422.2 L455.0,421.7 L456.3,421.2 L457.6,420.7 L458.9,420.1 L460.2,419.6 L461.5,419.0 L462.7,418.5 L464.0,417.9 L465.3,417.3 L466.6,416.7 L467.8,416.1 L469.1,415.6 L470.4,415.0 L471.7,414.4 L473.0,413.8 L474.2,413.3 L475.5,412.7 L476.8,412.1 L478.1,411.6 L479.3,411.0 L480.6,410.4 L481.9,409.8 L483.2,409.2 L484.4,408.7 L485.7,408.1 L487.0,407.5 L488.3,407.0 L489.6,406.4 L490.8,405.9 L492.1,405.3 L493.5,404.8 L494.8,404.4 L496.1,404.0 L497.5,403.6 L498.8,403.3 L500.2,403.0 L501.6,402.8 L503.0,402.6 L504.4,402.4 L505.8,402.3 L507.1,402.2 L508.5,402.1 L509.9,402.0 L511.3,402.0 L512.7,401.9 L514.1,401.8" fill="none" stroke="#0000ff" stroke-width="2.8" stroke-linejoin="round" stroke-linecap="round"/></g>
<g clip-path="url(#clipAL)"><path d="M321.3,379.3 L322.5,379.9 L323.8,380.6 L325.1,381.2 L326.3,381.8 L327.5,382.5 L328.8,383.1 L330.0,383.8 L331.2,384.4 L332.5,385.1 L333.7,385.8 L334.9,386.5 L336.1,387.2 L337.3,388.0 L338.4,388.8 L339.5,389.7 L340.6,390.6 L341.6,391.5 L342.7,392.4 L343.7,393.4 L344.7,394.4 L345.7,395.3 L346.7,396.3 L347.7,397.3 L348.6,398.3 L349.6,399.4 L350.5,400.4 L351.4,401.5 L352.4,402.5 L353.3,403.6 L354.2,404.6 L355.2,405.7 L356.1,406.7 L357.1,407.7 L358.0,408.7 L359.0,409.8 L359.9,410.8 L360.9,411.8 L361.8,412.8 L362.8,413.9 L363.7,414.9 L364.6,416.0 L365.5,417.1 L366.3,418.2 L367.2,419.3 L368.0,420.4 L368.9,421.5 L369.8,422.6 L370.6,423.7 L371.5,424.8 L372.3,425.9 L373.2,427.1 L374.0,428.2 L374.9,429.3 L375.8,430.4 L376.6,431.5 L377.5,432.6 L378.3,433.7 L379.2,434.8 L380.0,435.9 L380.9,437.0 L381.8,438.1 L382.6,439.2 L383.5,440.3 L384.3,441.5 L385.1,442.6 L386.0,443.7 L386.8,444.9 L387.6,446.0 L388.4,447.1 L389.2,448.3 L390.0,449.4 L390.8,450.6 L391.7,451.7 L392.5,452.8 L393.4,453.9 L394.3,454.9 L395.3,455.6 L396.5,455.5 L397.5,454.7 L398.4,453.7 L399.3,452.6 L400.2,451.6 L401.2,450.6 L402.2,449.6 L403.2,448.6 L404.2,447.6 L405.2,446.7 L406.2,445.7 L407.3,444.8 L408.3,443.8 L409.4,442.9 L410.4,442.0 L411.5,441.1 L412.6,440.2 L413.7,439.3 L414.8,438.4 L415.9,437.6 L417.0,436.7 L418.1,435.9 L419.2,435.1 L420.3,434.2 L421.5,433.4 L422.6,432.6 L423.7,431.7 L424.8,430.9 L426.0,430.1 L427.1,429.3 L428.3,428.5 L429.5,427.9 L430.8,427.4 L432.1,426.9 L433.5,426.5 L434.1,426.3" fill="none" stroke="#0000ff" stroke-width="2.8" stroke-linejoin="round" stroke-linecap="round"/></g>
<g clip-path="url(#clipAL)"><path d="M136.0,492.0 L137.4,492.0 L138.8,492.0 L140.2,491.9 L141.6,491.9 L143.0,491.9 L144.4,491.8 L145.8,491.6 L147.2,491.4 L148.5,491.1 L149.9,490.8 L151.3,490.5 L152.6,490.1 L154.0,489.7 L155.3,489.2 L156.6,488.8 L157.9,488.2 L159.2,487.6 L160.4,487.0 L161.7,486.4 L162.9,485.7 L164.1,485.1 L165.3,484.4 L166.5,483.7 L167.7,482.9 L168.9,482.2 L170.1,481.4 L171.2,480.6 L172.4,479.8 L173.6,479.0 L174.7,478.3 L175.9,477.5 L177.0,476.7 L178.2,475.9 L179.4,475.1 L180.5,474.3 L181.7,473.5 L182.8,472.8 L184.0,472.1 L185.3,471.4 L186.5,470.8 L187.8,470.2 L189.1,469.6 L190.3,469.0 L191.6,468.5 L193.0,468.1 L194.3,467.8 L195.7,467.7 L197.1,467.7 L198.5,467.8 L199.9,468.1 L201.2,468.5 L202.5,468.9 L203.8,469.5 L205.1,470.1 L206.3,470.8 L207.5,471.6 L208.6,472.4 L209.6,473.3 L210.7,474.3 L211.6,475.3 L212.6,476.3 L213.6,477.3 L214.5,478.3 L215.5,479.3 L216.5,480.4 L217.4,481.4 L218.4,482.4 L219.3,483.4 L220.2,484.5 L221.1,485.6 L222.0,486.7 L222.8,487.8 L223.6,488.9 L224.4,490.1 L225.3,491.2 L226.0,492.4 L226.8,493.5 L227.6,494.7 L228.4,495.8 L229.2,497.0 L230.0,498.2 L230.7,499.3 L231.5,500.5 L232.3,501.7 L233.0,502.9 L233.8,504.0 L234.5,505.2 L235.3,506.4 L236.0,507.6 L236.7,508.8 L237.4,510.0 L238.2,511.2 L238.9,512.4 L239.6,513.6 L240.3,514.8 L241.0,516.0 L241.8,517.2 L242.5,518.4 L243.2,519.6 L243.9,520.8 L244.6,522.0 L245.4,523.2 L246.1,524.4 L246.8,525.6 L247.6,526.8 L248.3,528.0 L249.0,529.2 L249.8,530.4 L250.5,531.5 L251.3,532.7 L252.0,533.9 L252.8,535.1 L253.5,536.3 L254.3,537.5 L255.0,538.6 L255.8,539.8 L256.5,541.0 L257.2,542.2 L258.0,543.4 L258.7,544.6 L259.4,545.8 L260.1,547.0 L260.8,548.2 L261.5,549.4 L262.2,550.6 L262.9,551.8 L263.6,553.1 L264.3,554.3 L265.0,555.5 L265.7,556.7 L266.4,557.9 L267.1,559.1" fill="none" stroke="#0000ff" stroke-width="2.8" stroke-linejoin="round" stroke-linecap="round"/></g>
<g clip-path="url(#clipAL)"><path d="M320.0,562.0 L320.8,560.9 L321.7,559.8 L322.5,558.6 L323.2,557.4 L324.0,556.3 L324.7,555.1 L325.5,553.9 L326.2,552.7 L326.9,551.5 L327.7,550.3 L328.4,549.1 L329.1,547.9 L329.8,546.7 L330.6,545.5 L331.3,544.3 L332.0,543.1 L332.8,541.9 L333.5,540.7 L334.2,539.6 L335.0,538.4 L335.7,537.2 L336.5,536.0 L337.2,534.8 L337.9,533.6 L338.7,532.4 L339.4,531.2 L340.2,530.1 L340.9,528.9 L341.7,527.7 L342.4,526.5 L343.2,525.3 L343.9,524.1 L344.7,523.0 L345.4,521.8 L346.2,520.6 L346.9,519.4 L347.7,518.2 L348.5,517.1 L349.2,515.9 L350.0,514.7 L350.7,513.5 L351.5,512.4 L352.2,511.2 L353.0,510.0 L353.8,508.8 L354.6,507.7 L355.4,506.5 L356.2,505.4 L357.0,504.3 L357.8,503.1 L358.7,502.0 L359.5,500.9 L360.4,499.8 L361.2,498.7 L362.1,497.6 L363.0,496.5 L363.9,495.4 L364.8,494.4 L365.7,493.3 L366.6,492.2 L367.5,491.2 L368.5,490.1 L369.4,489.1 L370.4,488.1 L371.3,487.0 L372.3,486.0 L373.2,485.0 L374.2,484.0 L375.1,482.9 L376.1,481.9 L377.1,480.9 L378.1,480.0 L379.1,479.0 L380.2,478.1 L381.3,477.2 L382.4,476.4 L383.5,475.6 L384.8,474.9 L386.0,474.3 L387.3,473.7 L388.6,473.1 L389.9,472.7 L391.2,472.4 L392.6,472.1 L394.0,472.0 L395.4,472.1 L396.8,472.3 L398.1,472.7 L399.5,473.0 L400.8,473.5 L402.1,473.9 L403.5,474.3 L404.8,474.8 L406.1,475.3 L407.4,475.9 L408.6,476.5 L409.8,477.2 L411.0,478.0 L412.2,478.7 L413.3,479.5 L414.4,480.4 L415.6,481.2 L416.7,482.0 L417.8,482.9 L418.9,483.7 L420.1,484.5 L421.2,485.3 L422.4,486.1 L423.5,487.0 L424.6,487.8 L425.7,488.6 L426.9,489.4 L428.1,490.2 L429.3,490.8 L430.6,491.4 L431.9,491.7 L433.3,492.0 L434.7,492.1 L436.1,492.2 L437.5,492.2 L438.9,492.1 L440.3,491.9 L441.7,491.8 L443.1,491.6 L444.4,491.4 L445.8,491.2 L447.2,491.1 L448.6,490.9 L450.0,490.8 L451.4,490.7 L452.8,490.7 L454.2,490.7 L455.6,490.6 L457.0,490.6 L458.4,490.6 L459.8,490.5 L461.2,490.5 L462.6,490.4 L464.0,490.4 L465.4,490.3 L466.8,490.2 L468.2,490.2 L469.6,490.1 L471.0,490.1 L472.4,490.0 L473.8,490.0 L475.2,490.0 L476.6,490.0 L478.0,490.0 L479.4,490.1 L480.8,490.1 L482.2,490.2 L483.6,490.2 L485.0,490.3 L486.4,490.4 L487.8,490.4 L489.2,490.5 L490.6,490.6 L492.0,490.7 L493.4,490.8 L494.8,490.9 L496.2,490.9 L497.6,491.0 L499.0,491.1 L500.4,491.2 L501.8,491.3 L503.2,491.4 L504.6,491.5 L506.0,491.6 L507.3,491.6 L508.7,491.7 L510.1,491.8 L511.5,491.9 L512.9,492.0 L514.3,492.1" fill="none" stroke="#0000ff" stroke-width="2.8" stroke-linejoin="round" stroke-linecap="round"/></g>
<g clip-path="url(#clipAL)"><path d="M329.5,562.0 L330.2,560.8 L330.9,559.6 L331.6,558.3 L332.3,557.1 L333.0,555.9 L333.7,554.7 L334.5,553.6 L335.2,552.4 L335.9,551.2 L336.7,550.0 L337.4,548.8 L338.1,547.6 L338.9,546.4 L339.6,545.2 L340.3,544.0 L341.1,542.8 L341.8,541.6 L342.5,540.4 L343.3,539.2 L344.0,538.1 L344.7,536.9 L345.4,535.7 L346.2,534.4 L346.9,533.2 L347.6,532.0 L348.3,530.8 L349.0,529.6 L349.7,528.4 L350.4,527.2 L351.1,526.0 L351.8,524.8 L352.5,523.6 L353.2,522.4 L353.9,521.1 L354.6,519.9 L355.3,518.7 L356.0,517.5 L356.8,516.3 L357.5,515.1 L358.2,513.9 L358.9,512.7 L359.6,511.5 L360.4,510.3 L361.1,509.1 L361.8,507.9 L362.5,506.7 L363.3,505.5 L364.0,504.3 L364.7,503.1 L365.5,502.0 L366.2,500.8 L367.0,499.6 L367.7,498.4 L368.5,497.2 L369.3,496.1 L370.1,494.9 L370.8,493.8 L371.7,492.6 L372.5,491.5 L373.3,490.4 L374.2,489.2 L375.0,488.1 L375.9,487.0 L376.7,485.9 L377.6,484.8 L378.5,483.7 L379.3,482.6 L380.2,481.5 L381.1,480.4 L381.9,479.3 L382.8,478.2 L383.6,477.1 L384.5,476.0 L385.3,474.8 L386.1,473.7 L386.9,472.5 L387.7,471.4 L388.5,470.3 L389.4,469.2 L390.3,468.1 L391.3,467.1 L392.3,466.1 L393.3,465.2 L394.5,464.5 L395.7,464.1 L397.0,464.2 L398.2,464.8 L399.4,465.6 L400.4,466.5 L401.3,467.6 L402.2,468.7 L402.9,469.8 L403.6,471.0 L404.3,472.3 L405.0,473.5 L405.7,474.7 L406.4,475.9 L407.1,477.1 L408.0,478.2 L408.8,479.3 L409.8,480.4 L410.7,481.4 L411.8,482.3 L412.8,483.3 L413.9,484.2 L414.9,485.1 L416.1,485.9 L417.2,486.8 L418.3,487.6 L419.5,488.4 L420.6,489.2 L421.8,489.9 L423.0,490.7 L424.2,491.4 L425.4,492.0 L426.7,492.6 L428.0,493.0 L429.4,493.4 L430.8,493.5 L432.2,493.5 L433.6,493.4 L434.9,493.3 L436.3,493.2 L437.7,493.0 L439.1,492.9 L440.5,492.7 L441.9,492.5" fill="none" stroke="#0000ff" stroke-width="2.8" stroke-linejoin="round" stroke-linecap="round"/></g>
<g clip-path="url(#clipAL)"><path d="M380.0,561.0 L380.9,559.9 L381.8,558.9 L382.9,558.1 L384.1,557.4 L385.4,556.7 L386.6,556.1 L387.9,555.6 L389.2,555.0 L390.5,554.5 L391.8,553.9 L393.1,553.4 L394.4,552.9 L395.7,552.4 L397.0,551.9 L398.3,551.4 L399.6,550.8 L400.9,550.3 L402.2,549.9 L403.5,549.4 L404.9,548.9 L406.2,548.5 L407.5,548.2 L408.9,547.8 L410.3,547.5 L411.6,547.2 L413.0,546.9 L414.4,546.7 L415.8,546.6 L417.2,546.6 L418.6,546.7 L420.0,546.9 L421.3,547.2 L422.6,547.6 L424.0,548.1 L425.2,548.6 L426.5,549.3 L427.7,550.0 L428.8,550.8 L429.8,551.8 L430.8,552.7 L431.8,553.7 L432.9,554.5 L434.2,555.2 L435.5,555.5 L436.9,555.8 L438.3,556.0 L439.6,556.2 L441.0,556.5 L442.4,556.8 L443.7,557.2 L445.0,557.6 L446.3,558.2 L447.6,558.8 L448.8,559.4 L449.5,559.7" fill="none" stroke="#0000ff" stroke-width="2.8" stroke-linejoin="round" stroke-linecap="round"/></g>
<g clip-path="url(#clipAL)"><path d="M433.2,555.3 L433.2,556.7 L433.2,558.1 L433.2,559.5 L433.2,560.9" fill="none" stroke="#0000ff" stroke-width="2.8" stroke-linejoin="round" stroke-linecap="round"/></g>
<g clip-path="url(#clipAR)"><path d="M821.2,8.0 L821.2,9.4 L821.2,10.8 L821.2,12.2 L821.2,13.6 L821.2,15.0 L821.1,16.4 L821.1,17.8 L821.1,19.2 L821.1,20.6 L821.1,22.0 L821.1,23.4 L821.1,24.8 L821.1,26.2 L821.1,27.6 L821.1,29.0 L821.1,30.4 L821.2,31.8 L821.3,33.2 L821.6,34.5 L822.2,35.7 L823.1,36.7 L824.4,37.3 L825.7,37.6 L827.1,37.9 L828.5,38.1 L829.8,38.3 L831.2,38.4 L832.6,38.5 L834.0,38.6 L835.4,38.7 L836.8,38.8 L838.2,38.9 L839.6,39.0 L841.0,39.1 L842.4,39.2 L843.8,39.3 L845.2,39.4 L846.6,39.6 L848.0,39.7 L849.4,39.9 L850.8,40.1 L852.2,40.2 L853.5,40.4 L854.9,40.5 L856.3,40.7 L857.7,40.9 L859.1,41.0 L860.5,41.2 L861.9,41.4 L863.3,41.5 L864.7,41.7 L866.1,41.9 L867.4,42.0 L868.8,42.2 L870.2,42.4 L871.6,42.6 L873.0,42.8 L874.4,43.0 L875.8,43.1 L877.2,43.3 L878.5,43.5 L879.9,43.7 L881.3,43.9 L882.7,44.1 L884.1,44.4 L885.5,44.6 L886.8,44.9 L888.2,45.1 L889.4,45.5 L890.0,46.0 L889.5,46.6 L888.3,47.1 L886.9,47.4 L885.6,47.7 L884.2,48.0 L882.8,48.2 L881.4,48.4 L880.0,48.5 L878.6,48.7 L877.2,48.8 L875.9,48.9 L874.5,49.1 L873.1,49.2 L871.7,49.3 L870.3,49.5 L868.9,49.6 L867.5,49.7 L866.1,49.8 L864.7,50.0 L863.3,50.1 L861.9,50.3 L860.5,50.4 L859.1,50.5 L857.7,50.7 L856.3,50.8 L854.9,50.9 L853.6,51.1 L852.2,51.2 L850.8,51.4 L849.4,51.5 L848.0,51.6 L846.6,51.8 L845.2,51.9 L843.8,52.1 L842.4,52.2 L841.0,52.4 L839.6,52.5 L838.2,52.7 L836.8,52.8 L835.5,53.0 L834.1,53.1 L832.7,53.2 L831.3,53.3 L829.9,53.5 L828.5,53.7 L827.1,53.9 L825.7,54.2 L824.4,54.6 L823.2,55.2 L822.3,56.2 L821.7,57.4 L821.3,58.7 L821.2,60.1 L821.1,61.5 L821.1,62.9 L821.2,64.3 L821.4,65.7 L821.9,66.9 L822.7,68.0 L823.9,68.7 L825.1,69.3 L826.5,69.7 L827.8,70.0 L829.2,70.2 L830.6,70.5 L832.0,70.6 L833.4,70.8 L834.7,71.0 L836.1,71.1 L837.5,71.3 L838.9,71.4 L840.3,71.5 L841.7,71.6 L843.1,71.8 L844.5,71.9 L845.9,72.0 L847.3,72.1 L848.7,72.2 L850.1,72.4 L851.5,72.5 L852.9,72.6 L854.3,72.8 L855.7,72.9 L857.1,73.1 L858.4,73.2 L859.8,73.4 L861.2,73.5 L862.6,73.6 L864.0,73.8 L865.4,73.9 L866.8,74.1 L868.2,74.2 L869.6,74.3 L871.0,74.5 L872.4,74.6 L873.8,74.7 L875.2,74.9 L876.6,75.0 L877.9,75.2 L879.3,75.3 L880.7,75.4 L882.1,75.6 L883.5,75.7 L884.9,75.9 L886.3,76.1 L887.7,76.2 L889.1,76.4 L890.5,76.5 L891.9,76.7 L893.3,76.8 L894.6,77.0 L896.0,77.2 L897.4,77.3 L898.8,77.5 L900.2,77.7 L901.6,77.8 L903.0,78.0 L904.4,78.2 L905.8,78.3 L907.2,78.5 L908.5,78.7 L909.9,78.9 L911.3,79.1 L912.7,79.3 L914.1,79.5 L915.5,79.7 L916.9,79.9 L918.2,80.1 L919.6,80.3 L921.0,80.5 L922.4,80.8 L923.7,81.2 L924.9,81.9 L925.7,82.8 L925.8,84.0 L925.2,85.0 L924.2,86.0 L923.0,86.7 L921.7,87.3 L920.4,87.7 L919.0,88.1 L917.7,88.4 L916.3,88.8 L915.0,89.1 L913.6,89.5 L912.2,89.8 L910.9,90.1 L909.5,90.4 L908.2,90.7 L906.8,91.0 L905.4,91.3 L904.1,91.6 L902.7,91.9 L901.3,92.2 L900.0,92.5 L898.6,92.8 L897.2,93.1 L895.8,93.4 L894.5,93.7 L893.1,94.0 L891.7,94.3 L890.4,94.6 L889.0,94.9 L887.6,95.2 L886.3,95.5 L884.9,95.7 L883.5,96.0 L882.1,96.3 L880.8,96.6 L879.4,96.9 L878.0,97.1 L876.7,97.4 L875.3,97.7 L873.9,98.0 L872.5,98.2 L871.2,98.5 L869.8,98.8 L868.4,99.0 L867.0,99.3 L865.7,99.5 L864.3,99.8 L862.9,100.0 L861.5,100.2 L860.1,100.5 L858.8,100.7 L857.4,100.9 L856.0,101.1 L854.6,101.3 L853.2,101.5 L851.8,101.6 L850.4,101.8 L849.0,102.0 L847.7,102.2 L846.3,102.4 L844.9,102.5 L843.5,102.7 L842.1,102.9 L840.7,103.1 L839.3,103.3 L838.0,103.5 L836.6,103.7 L835.2,104.0 L833.8,104.2 L832.4,104.5 L831.1,104.8 L829.7,105.2 L828.4,105.5 L827.0,105.9 L825.7,106.3 L824.4,106.9 L823.2,107.6 L822.3,108.6 L821.7,109.8 L821.4,111.1 L821.3,112.5 L821.2,113.9 L821.2,115.3 L821.2,116.7 L821.1,118.1 L821.1,119.5 L821.1,120.9 L821.1,122.3 L821.1,123.7 L821.0,125.1 L821.0,126.5 L821.0,127.9 L821.0,129.3 L821.0,130.7 L821.0,132.1 L821.0,133.5 L820.9,134.9 L820.9,136.3 L820.9,137.7 L820.9,139.1 L820.9,140.5 L820.9,141.9 L820.9,143.3 L820.9,144.7 L820.9,146.1 L820.9,147.5 L820.9,148.9 L820.9,150.3 L820.9,151.7 L820.8,153.1 L820.8,154.5 L820.8,155.9 L820.8,157.3 L820.8,158.7 L820.8,160.1 L820.8,161.5 L820.8,162.9 L820.8,164.3 L820.8,165.7 L820.8,167.1 L820.8,168.5 L820.8,169.9 L820.8,171.3 L820.8,172.7 L820.8,174.1 L820.8,175.5 L820.8,176.9 L820.8,178.3 L820.8,179.7 L820.8,181.1 L820.8,182.5 L820.8,183.9 L820.8,185.3 L820.8,186.7 L820.8,188.1 L820.8,189.5 L820.8,190.9 L820.8,192.3 L820.8,193.7 L820.8,195.1 L820.8,196.5 L820.8,197.9 L820.8,199.3 L820.9,200.7 L820.9,202.1 L820.9,203.5 L820.9,204.9 L820.9,206.3 L820.9,207.7 L821.0,209.1 L821.0,210.5 L821.0,211.9 L821.1,213.3 L821.1,214.7 L821.2,216.1 L821.3,217.5 L821.5,218.9 L822.1,220.1 L823.0,221.0 L824.2,221.7 L825.5,222.1 L826.8,222.4 L828.2,222.7 L829.6,222.9 L831.0,223.1 L832.4,223.2 L833.8,223.4 L835.2,223.5 L836.6,223.7 L838.0,223.8 L839.3,224.0 L840.7,224.1 L842.1,224.3 L843.5,224.5 L844.9,224.7 L846.3,224.9 L847.7,225.2 L849.0,225.5 L850.4,225.7 L851.8,226.0 L853.1,226.3 L854.5,226.6 L855.9,226.9 L857.2,227.3 L858.6,227.6 L859.9,228.0 L861.3,228.3 L862.6,228.7 L864.0,229.1 L865.3,229.5 L866.6,230.0 L868.0,230.4 L869.3,230.8 L870.6,231.2 L872.0,231.7 L873.3,232.1 L874.6,232.6 L875.9,233.1 L877.2,233.7 L878.4,234.3 L879.7,235.0 L880.8,235.8 L882.0,236.6 L883.0,237.5 L884.1,238.4 L885.0,239.4 L885.9,240.5 L886.6,241.7 L887.0,243.0 L887.1,244.4 L886.8,245.7 L886.2,246.9 L885.4,248.1 L884.5,249.1 L883.5,250.2 L882.5,251.1 L881.4,251.9 L880.2,252.7 L879.0,253.3 L877.7,253.9 L876.4,254.4 L875.0,254.8 L873.7,255.2 L872.3,255.5 L871.0,255.8 L869.6,256.1 L868.2,256.4 L866.9,256.7 L865.5,257.0 L864.1,257.3 L862.8,257.6 L861.4,257.9 L860.0,258.2 L858.7,258.5 L857.3,258.8 L855.9,259.0 L854.5,259.3 L853.2,259.5 L851.8,259.8 L850.4,260.1 L849.0,260.3 L847.7,260.6 L846.3,260.9 L844.9,261.3 L843.6,261.6 L842.2,262.0 L840.9,262.5 L839.6,262.9 L838.2,263.3 L836.9,263.8 L835.6,264.2 L834.3,264.7 L833.0,265.2 L831.7,265.7 L830.4,266.2 L829.1,266.7 L827.8,267.3 L826.5,267.9 L825.3,268.5 L824.0,269.2 L822.9,270.0 L822.0,271.0 L821.4,272.2 L821.2,273.5 L821.2,274.9 L821.2,276.3 L821.1,277.7 L821.1,279.1 L821.1,280.5 L821.1,281.9 L821.1,283.3 L821.1,284.7 L821.1,286.1 L821.1,287.5 L821.1,288.9 L821.1,290.3 L821.1,291.7 L821.1,293.1 L821.2,294.5 L821.2,295.9 L821.2,297.3 L821.2,298.7 L821.2,300.1 L821.2,301.5 L821.3,302.9 L821.3,304.3 L821.3,305.7 L821.3,307.1 L821.3,308.5 L821.3,309.9 L821.4,311.3 L821.4,312.7 L821.4,314.1 L821.4,315.5 L821.4,316.9 L821.4,318.3 L821.5,319.7 L821.5,321.1 L821.5,322.5 L821.5,323.9 L821.5,325.3 L821.5,326.7 L821.6,328.1 L821.6,329.5 L821.6,330.9 L821.6,332.3 L821.6,333.7 L821.6,335.1 L821.6,336.5 L821.6,337.9 L821.7,339.3 L821.7,340.7 L821.7,342.1 L821.7,343.5 L821.7,344.9 L821.7,346.3 L821.7,347.7 L821.7,349.1 L821.7,350.5 L821.7,351.9 L821.7,353.3 L821.7,354.7 L821.6,356.1 L821.6,357.5 L821.6,358.9 L821.6,360.3 L821.5,361.7 L821.5,363.1 L821.4,364.5 L821.3,365.9 L821.2,367.3 L821.0,368.7 L820.7,370.0 L819.8,371.0 L818.7,371.7 L817.4,372.2 L816.1,372.6 L814.8,373.1 L813.5,373.7 L812.3,374.4 L811.0,375.0 L809.8,375.7 L808.6,376.4 L807.4,377.1 L806.2,377.8 L805.0,378.5 L803.8,379.3 L802.6,380.0 L801.4,380.8 L800.3,381.6 L799.1,382.3 L797.9,383.1 L796.7,383.9 L795.6,384.6 L794.4,385.4 L793.3,386.3 L792.2,387.1 L791.1,388.0 L790.0,388.9 L789.0,389.9 L788.1,390.9 L787.1,391.9 L786.2,393.0 L785.3,394.1 L784.5,395.2 L783.7,396.4 L783.0,397.5 L782.4,398.8 L781.9,400.1 L781.7,401.5 L781.8,402.8 L782.2,404.2 L782.8,405.4 L783.6,406.6 L784.4,407.7 L785.4,408.7 L786.5,409.6 L787.6,410.4 L788.8,411.2 L790.0,411.8 L791.3,412.4 L792.5,413.0 L793.9,413.5 L795.2,414.0 L796.5,414.4 L797.8,414.8 L799.2,415.2 L800.5,415.6 L801.9,416.0 L803.2,416.3 L804.6,416.7 L806.0,416.9 L807.3,417.2 L808.7,417.4 L810.1,417.6 L811.5,417.7 L812.9,417.9 L814.3,418.0 L815.7,418.2 L817.1,418.3 L818.5,418.4 L819.9,418.6 L821.2,418.7 L822.6,418.8 L824.0,419.0 L825.4,419.1 L826.8,419.2 L828.2,419.2 L829.6,419.3 L831.0,419.4 L832.4,419.5 L833.8,419.5 L835.2,419.6 L836.6,419.7 L838.0,419.7 L839.4,419.8 L840.8,419.9 L842.2,419.9 L843.6,420.0 L845.0,420.1 L846.4,420.1 L847.8,420.2 L849.2,420.3 L850.6,420.4 L852.0,420.4 L853.4,420.5 L854.8,420.6 L856.2,420.7 L857.6,420.8 L859.0,420.9 L860.4,421.0 L861.8,421.0 L863.2,421.1 L864.6,421.2 L866.0,421.3 L867.4,421.4 L868.8,421.5 L870.2,421.6 L871.6,421.7 L873.0,421.8 L874.3,421.9 L875.7,422.0 L877.1,422.1 L878.5,422.2 L879.9,422.3 L881.3,422.4 L882.7,422.5 L884.1,422.6 L885.5,422.7 L886.9,422.9 L888.3,423.0 L889.7,423.1 L891.1,423.2 L892.5,423.3 L893.9,423.4 L895.3,423.6 L896.7,423.7 L898.1,423.8 L899.5,423.9 L900.9,424.1 L902.3,424.2 L903.6,424.3 L905.0,424.5 L906.4,424.6 L907.8,424.8 L909.2,425.0 L910.6,425.1 L912.0,425.3 L913.4,425.5 L914.8,425.7 L916.1,425.9 L917.5,426.1 L918.9,426.3 L920.3,426.5 L921.7,426.7 L923.1,426.9 L924.5,427.1 L925.8,427.3 L927.2,427.6 L928.6,427.9 L930.0,428.2 L931.3,428.5 L932.6,429.0 L933.9,429.5 L935.1,430.2 L936.3,431.0 L937.4,431.8 L938.4,432.8 L939.3,433.9 L940.0,435.0 L940.2,436.3 L940.0,437.6 L939.3,438.8 L938.4,439.8 L937.3,440.6 L936.1,441.4 L934.9,442.2 L933.7,442.8 L932.5,443.5 L931.2,444.0 L929.9,444.5 L928.6,445.0 L927.2,445.4 L925.9,445.8 L924.5,446.2 L923.2,446.5 L921.8,446.8 L920.4,447.1 L919.1,447.4 L917.7,447.7 L916.3,447.9 L914.9,448.2 L913.6,448.4 L912.2,448.7 L910.8,448.9 L909.4,449.1 L908.0,449.3 L906.7,449.6 L905.3,449.8 L903.9,450.0 L902.5,450.2 L901.1,450.3 L899.7,450.5 L898.3,450.6 L896.9,450.8 L895.5,450.9 L894.1,451.0 L892.7,451.1 L891.4,451.2 L890.0,451.3 L888.6,451.4 L887.2,451.5 L885.8,451.5 L884.4,451.6 L883.0,451.7 L881.6,451.8 L880.2,451.8 L878.8,451.9 L877.4,452.0 L876.0,452.1 L874.6,452.2 L873.2,452.3 L871.8,452.4 L870.4,452.5 L869.0,452.6 L867.6,452.7 L866.2,452.8 L864.8,452.9 L863.4,453.1 L862.0,453.2 L860.6,453.3 L859.2,453.4 L857.8,453.5 L856.4,453.7 L855.0,453.8 L853.7,453.9 L852.3,454.0 L850.9,454.2 L849.5,454.3 L848.1,454.4 L846.7,454.6 L845.3,454.7 L843.9,454.9 L842.5,455.0 L841.1,455.2 L839.7,455.3 L838.3,455.5 L836.9,455.6 L835.5,455.7 L834.2,455.9 L832.8,456.0 L831.4,456.1 L830.0,456.3 L828.6,456.4 L827.2,456.6 L825.8,456.9 L824.5,457.4 L823.3,458.0 L822.3,458.9 L822.0,459.9 L822.6,460.9 L823.6,461.6 L824.9,462.2 L826.3,462.6 L827.6,462.9 L829.0,463.2 L830.4,463.3 L831.8,463.5 L833.2,463.6 L834.6,463.7 L836.0,463.8 L837.4,463.8 L838.8,463.9 L840.2,463.9 L841.6,463.9 L843.0,464.0 L844.4,464.0 L845.8,464.0 L847.2,464.0 L848.6,464.0 L850.0,464.0 L851.4,464.0 L852.8,464.0 L854.2,464.1 L855.6,464.1 L857.0,464.1 L858.4,464.1 L859.8,464.1 L861.2,464.1 L862.6,464.1 L864.0,464.1 L865.4,464.2 L866.8,464.2 L868.2,464.2 L869.6,464.3 L871.0,464.3 L872.4,464.4 L873.8,464.5 L875.2,464.5 L876.6,464.6 L877.9,464.6 L879.3,464.7 L880.7,464.7 L882.1,464.8 L883.5,464.8 L884.9,464.9 L886.3,465.0 L887.7,465.0 L889.1,465.1 L890.5,465.1 L891.9,465.2 L893.3,465.2 L894.7,465.3 L896.1,465.4 L897.5,465.4 L898.9,465.5 L900.3,465.5 L901.7,465.6 L903.1,465.7 L904.5,465.7 L905.9,465.8 L907.3,465.9 L908.7,465.9 L910.1,466.0 L911.5,466.1 L912.9,466.2 L914.3,466.2 L915.7,466.3 L917.1,466.4 L918.5,466.5 L919.9,466.6 L921.3,466.6 L922.7,466.7 L924.1,466.8 L925.5,466.9 L926.8,467.1 L927.6,467.4 L927.2,467.8 L926.1,468.1 L924.7,468.4 L923.4,468.6 L922.0,468.8 L920.6,469.0 L919.2,469.2 L917.8,469.3 L916.4,469.5 L915.0,469.6 L913.6,469.7 L912.2,469.8 L910.8,469.9 L909.4,470.0 L908.0,470.1 L906.6,470.1 L905.2,470.2 L903.8,470.2 L902.4,470.3 L901.0,470.3 L899.6,470.4 L898.2,470.4 L896.8,470.4 L895.4,470.5 L894.0,470.5 L892.6,470.5 L891.2,470.5 L889.8,470.6 L888.4,470.6 L887.0,470.6 L885.6,470.6 L884.2,470.7 L882.8,470.7 L881.4,470.7 L880.0,470.7 L878.6,470.8 L877.2,470.8 L875.8,470.8 L874.4,470.9 L873.0,470.9 L871.6,471.0 L870.2,471.0 L868.8,471.0 L867.4,471.1 L866.0,471.1 L864.6,471.2 L863.2,471.2 L861.8,471.3 L860.4,471.3 L859.1,471.4 L857.7,471.4 L856.3,471.5 L854.9,471.5 L853.5,471.6 L852.1,471.7 L850.7,471.7 L849.3,471.8 L847.9,471.8 L846.5,471.9 L845.1,471.9 L843.7,472.0 L842.3,472.1 L840.9,472.1 L839.5,472.2 L838.1,472.3 L836.7,472.3 L835.3,472.4 L833.9,472.5 L832.5,472.5 L831.1,472.6 L829.7,472.7 L828.3,472.8 L826.9,472.9 L825.5,472.9 L824.1,473.0 L822.7,473.1 L821.3,473.2 L819.9,473.3 L818.5,473.3 L817.1,473.4 L815.7,473.5 L814.3,473.6 L812.9,473.7 L811.5,473.8 L810.1,473.9 L808.7,474.0 L807.3,474.0 L805.9,474.1 L804.5,474.2 L803.1,474.3 L801.7,474.4 L800.3,474.5 L798.9,474.6 L797.5,474.7 L796.1,474.8 L794.8,474.9 L793.4,475.1 L792.0,475.2 L790.6,475.3 L789.2,475.4 L787.8,475.5 L786.4,475.6 L785.0,475.7 L783.6,475.8 L782.2,475.9 L780.8,476.0 L779.4,476.1 L778.0,476.3 L776.6,476.4 L775.2,476.5 L773.8,476.6 L772.4,476.7 L771.0,476.8 L769.6,477.0 L768.2,477.1 L766.9,477.3 L765.5,477.5 L764.1,477.7 L762.7,477.9 L761.3,478.1 L759.9,478.3 L758.6,478.6 L757.2,478.9 L755.8,479.2 L754.4,479.4 L753.1,479.8 L751.7,480.1 L750.4,480.4 L749.0,480.8 L747.7,481.2 L746.4,481.7 L745.6,482.5 L745.7,483.3 L746.7,483.9 L747.9,484.4 L749.3,484.8 L750.6,485.1 L752.0,485.4 L753.4,485.7 L754.7,486.0 L756.1,486.3 L757.5,486.5 L758.9,486.8 L760.3,487.0 L761.6,487.2 L763.0,487.4 L764.4,487.6 L765.8,487.8 L767.2,487.9 L768.6,488.0 L770.0,488.1 L771.4,488.3 L772.8,488.4 L774.2,488.5 L775.6,488.5 L777.0,488.6 L778.4,488.7 L779.8,488.8 L781.2,488.9 L782.6,489.0 L784.0,489.1 L785.4,489.2 L786.7,489.2 L788.1,489.3 L789.5,489.4 L790.9,489.5 L792.3,489.6 L793.7,489.7 L795.1,489.8 L796.5,489.9 L797.9,490.0 L799.3,490.0 L800.7,490.1 L802.1,490.2 L803.5,490.3 L804.9,490.4 L806.3,490.4 L807.7,490.5 L809.1,490.6 L810.5,490.7 L811.9,490.8 L813.3,490.9 L814.7,491.0 L816.1,491.1 L817.5,491.2 L818.9,491.3 L820.3,491.5 L821.7,491.6 L823.1,491.8 L824.5,491.9 L825.8,492.1 L827.2,492.2 L828.6,492.4 L830.0,492.6 L831.4,492.9 L832.8,493.2 L834.1,493.5 L835.4,493.9 L836.1,494.6 L835.7,495.3 L834.6,495.9 L833.3,496.4 L832.0,496.9 L830.7,497.2 L829.3,497.5 L827.9,497.8 L826.5,498.1 L825.2,498.3 L823.8,498.6 L822.4,498.9 L821.1,499.2 L819.7,499.6 L818.4,500.0 L817.0,500.4 L815.7,500.8 L814.4,501.2 L813.0,501.7 L811.7,502.1 L810.4,502.6 L809.1,503.1 L807.8,503.6 L806.5,504.1 L805.2,504.7 L803.9,505.3 L802.7,505.9 L801.4,506.6 L800.2,507.2 L799.0,507.9 L797.8,508.6 L796.6,509.3 L795.4,510.0 L794.2,510.8 L793.0,511.5 L791.8,512.2 L790.6,513.0 L789.4,513.7 L788.2,514.5 L787.1,515.2 L785.9,516.0 L784.7,516.8 L783.6,517.6 L782.4,518.4 L781.3,519.2 L780.2,520.0 L779.0,520.9 L777.9,521.7 L776.8,522.5 L775.6,523.3 L774.5,524.1 L773.4,525.0 L772.2,525.8 L771.1,526.6 L770.0,527.5 L768.9,528.3 L767.8,529.2 L766.7,530.0 L765.6,530.9 L764.5,531.7 L763.3,532.6 L762.2,533.5 L761.1,534.3 L760.0,535.2 L758.9,536.1 L757.8,536.9 L756.8,537.8 L755.7,538.7 L754.6,539.6 L753.5,540.4 L752.4,541.3 L751.3,542.2 L750.2,543.0 L749.1,543.9 L747.9,544.7 L746.7,545.4 L745.4,545.9 L744.1,546.2 L742.7,546.5 L741.3,546.7 L739.9,546.8 L738.5,547.0 L737.1,547.1 L735.7,547.2 L734.3,547.3 L732.9,547.4 L731.5,547.5 L730.1,547.6 L728.7,547.7 L727.4,547.9 L726.0,548.0 L724.6,548.1 L723.2,548.2 L721.8,548.3 L720.4,548.4 L719.0,548.6 L717.6,548.7 L716.2,548.8 L714.8,548.9 L713.4,549.0 L712.0,549.1 L710.6,549.3 L709.2,549.4 L707.8,549.5 L706.4,549.6 L705.0,549.7 L703.6,549.8 L702.2,549.9 L700.8,550.1 L699.5,550.2 L698.1,550.3 L696.7,550.4 L695.3,550.5 L693.9,550.7 L692.5,550.8 L691.1,550.9 L689.7,551.0 L688.3,551.1 L686.9,551.2 L685.5,551.4 L684.1,551.5 L682.7,551.6 L681.3,551.7 L679.9,551.8 L678.5,552.0 L677.1,552.1 L675.7,552.2 L674.3,552.3 L672.9,552.4 L671.6,552.5 L670.2,552.7 L668.8,552.8 L667.4,552.9 L666.0,553.0 L664.6,553.1 L663.2,553.2 L661.8,553.3 L660.4,553.5 L659.0,553.6 L657.6,553.7 L656.2,553.8 L654.8,553.9 L653.4,554.0 L652.0,554.1 L650.6,554.2 L649.2,554.3 L647.8,554.4 L646.4,554.5 L645.0,554.6 L643.6,554.7 L642.2,554.8 L640.8,554.9 L639.4,555.0 L638.1,555.1 L636.7,555.2 L635.3,555.3 L633.9,555.4 L632.5,555.5 L631.1,555.6 L629.7,555.7 L628.3,555.8 L626.9,555.9 L625.5,556.0 L624.1,556.1 L622.7,556.2 L621.3,556.3 L619.9,556.4 L618.5,556.5 L617.1,556.6 L615.7,556.7 L614.3,556.8 L612.9,556.9 L611.5,557.0 L610.1,557.1 L608.7,557.2 L607.3,557.3 L605.9,557.4 L604.5,557.5 L603.1,557.5 L601.7,557.6 L600.3,557.7 L598.9,557.8 L597.5,557.9 L596.1,558.0 L594.8,558.1 L593.4,558.2 L592.0,558.3 L590.6,558.4 L589.2,558.5 L587.8,558.5 L586.4,558.6 L585.0,558.7 L583.6,558.8 L582.2,558.9 L580.8,559.0 L579.4,559.1 L578.0,559.2 L576.6,559.3" fill="none" stroke="#d95319" stroke-width="3.6" stroke-linejoin="round" stroke-linecap="round"/></g>
<g clip-path="url(#clipBL)"><path d="M136.0,684.0 L137.4,684.1 L138.8,684.2 L140.2,684.2 L141.6,684.3 L143.0,684.4 L144.4,684.4 L145.8,684.5 L147.2,684.6 L148.6,684.7 L150.0,684.8 L151.4,684.9 L152.8,685.1 L154.1,685.3 L155.5,685.5 L156.9,685.8 L158.3,686.1 L159.6,686.4 L161.0,686.8 L162.3,687.1 L163.7,687.5 L165.0,687.9 L166.4,688.4 L167.7,688.8 L169.0,689.3 L170.3,689.7 L171.6,690.2 L172.9,690.7 L174.2,691.3 L175.5,691.8 L176.8,692.4 L178.1,692.9 L179.4,693.5 L180.6,694.1 L181.9,694.8 L183.1,695.4 L184.4,696.0 L185.6,696.7 L186.8,697.4 L188.0,698.1 L189.2,698.8 L190.4,699.5 L191.6,700.2 L192.8,700.9 L194.0,701.7 L195.2,702.4 L196.4,703.2 L197.5,704.0 L198.7,704.7 L199.9,705.5 L201.0,706.3 L202.1,707.2 L203.3,708.0 L204.4,708.8 L205.5,709.7 L206.6,710.5 L207.7,711.4 L208.8,712.2 L209.9,713.1 L211.0,714.0 L212.1,714.9 L213.2,715.7 L214.3,716.6 L215.4,717.5 L216.5,718.4 L217.5,719.3 L218.6,720.2 L219.6,721.1 L220.7,722.1 L221.7,723.0 L222.8,723.9 L223.8,724.9 L224.8,725.8 L225.9,726.8 L226.9,727.7 L227.9,728.7 L229.0,729.6 L230.0,730.6 L231.0,731.5 L232.1,732.5 L233.1,733.4 L234.1,734.3 L235.2,735.3 L236.2,736.2 L237.3,737.1 L238.3,738.0 L239.4,739.0 L240.4,739.9 L241.5,740.8 L242.5,741.7 L243.6,742.6 L244.7,743.6 L245.7,744.5 L246.8,745.4 L247.9,746.3 L248.9,747.2 L250.0,748.1 L251.1,749.0 L252.2,749.9 L253.2,750.8 L254.3,751.7 L255.4,752.5 L256.5,753.4 L257.6,754.3 L258.7,755.2 L259.7,756.1 L260.8,757.0 L261.9,757.9 L263.0,758.8 L264.1,759.6 L265.2,760.5 L266.2,761.4 L267.4,762.3 L268.5,763.1 L269.6,763.9 L270.7,764.7 L271.9,765.5 L273.1,766.3 L274.3,767.0 L275.5,767.7 L276.7,768.4 L277.9,769.1 L279.2,769.7 L280.4,770.3 L281.7,770.9 L283.0,771.5 L284.3,772.0 L285.6,772.6 L286.9,773.0 L288.2,773.5 L289.5,773.9 L290.9,774.3 L292.2,774.6 L293.6,774.8 L295.0,775.0 L296.4,775.0 L297.8,774.9 L299.2,774.7 L300.5,774.4 L301.9,773.9 L303.2,773.4 L304.4,772.9 L305.7,772.3 L306.9,771.6 L308.2,771.0 L309.4,770.3 L310.6,769.6 L311.8,768.8 L312.9,768.0 L314.0,767.2 L315.2,766.3 L316.3,765.5 L317.4,764.6 L318.5,763.8 L319.6,762.9 L320.7,762.0 L321.8,761.1 L322.9,760.3 L323.9,759.4 L325.0,758.5 L326.1,757.6 L327.2,756.7 L328.2,755.8 L329.3,754.9 L330.3,753.9 L331.4,753.0 L332.5,752.1 L333.5,751.2 L334.6,750.3 L335.6,749.3 L336.7,748.4 L337.7,747.5 L338.8,746.6 L339.8,745.7 L340.9,744.7 L341.9,743.8 L343.0,742.9 L344.0,741.9 L345.1,741.0 L346.1,740.1 L347.1,739.1 L348.1,738.1 L349.2,737.2 L350.2,736.2 L351.2,735.3 L352.2,734.3 L353.2,733.3 L354.3,732.4 L355.3,731.4 L356.3,730.5 L357.3,729.5 L358.4,728.6 L359.4,727.7 L360.5,726.7 L361.5,725.8 L362.6,724.9 L363.7,724.0 L364.8,723.2 L365.9,722.3 L367.0,721.5 L368.1,720.6 L369.3,719.8 L370.4,719.0 L371.6,718.2 L372.7,717.4 L373.9,716.6 L375.1,715.9 L376.2,715.1 L377.4,714.3 L378.6,713.6 L379.8,712.9 L381.0,712.1 L382.2,711.4 L383.4,710.7 L384.6,709.9 L385.8,709.2 L387.0,708.5 L388.2,707.8 L389.4,707.1 L390.6,706.4 L391.8,705.7 L393.0,705.0 L394.3,704.4 L395.5,703.7 L396.8,703.1 L398.1,702.6 L399.4,702.1 L400.7,701.6 L402.0,701.2 L403.4,700.8 L404.7,700.5 L406.1,700.2 L407.5,699.9 L408.8,699.7 L410.2,699.4 L411.6,699.2 L413.0,699.0 L414.4,698.8 L415.8,698.6 L417.2,698.5 L418.6,698.3 L419.9,698.2 L421.3,698.1 L422.7,698.0 L424.1,697.9 L425.5,697.9 L426.9,697.9 L428.3,697.9 L429.7,697.9 L431.1,697.9 L432.5,697.9 L433.9,697.9 L435.3,697.9 L436.7,697.8 L438.1,697.7 L439.5,697.6 L440.9,697.5 L442.3,697.4 L443.7,697.3 L445.1,697.1 L446.5,697.0 L447.9,696.8 L449.3,696.5 L450.6,696.2 L452.0,695.9 L453.3,695.5 L454.7,695.2 L456.0,694.7 L457.4,694.3 L458.7,693.9 L460.0,693.5 L461.4,693.1 L462.7,692.7 L464.1,692.3 L465.4,691.9 L466.7,691.5 L468.1,691.1 L469.4,690.7 L470.8,690.3 L472.1,689.9 L473.5,689.6 L474.8,689.2 L476.2,688.8 L477.5,688.5 L478.9,688.1 L480.2,687.8 L481.6,687.4 L483.0,687.1 L484.3,686.8 L485.7,686.5 L487.1,686.2 L488.4,685.9 L489.8,685.6 L491.2,685.4 L492.6,685.1 L493.9,684.9 L495.3,684.7 L496.7,684.5 L498.1,684.4 L499.5,684.3 L500.9,684.1 L502.3,684.1 L503.7,684.0 L505.1,683.9 L506.5,683.9 L507.9,683.8 L509.3,683.8 L510.7,683.7 L512.1,683.7 L513.5,683.6 L514.2,683.6" fill="none" stroke="#0000ff" stroke-width="2.8" stroke-linejoin="round" stroke-linecap="round"/></g>
<g clip-path="url(#clipBL)"><path d="M296.0,775.1 L297.4,774.8 L298.7,774.5 L300.1,774.3 L301.5,774.0 L302.9,773.7 L304.2,773.4 L305.6,773.0 L306.9,772.5 L308.2,772.0 L309.5,771.4 L310.7,770.8 L311.9,770.1 L313.1,769.4 L314.3,768.7 L315.5,767.9 L316.7,767.1 L317.8,766.4 L319.0,765.6 L320.2,764.9 L321.4,764.1 L322.5,763.3 L323.7,762.5 L324.8,761.7 L326.0,761.0 L327.2,760.2 L328.3,759.4 L329.5,758.6 L330.6,757.8 L331.7,757.0 L332.9,756.1 L334.0,755.3 L335.2,754.5 L336.3,753.7 L337.4,752.9 L338.6,752.0 L339.7,751.2 L340.8,750.4 L341.9,749.5 L343.1,748.7 L344.2,747.8 L345.3,747.0 L346.4,746.1 L347.5,745.2 L348.6,744.4 L349.6,743.5 L350.7,742.6 L351.8,741.7 L352.9,740.8 L354.0,739.9 L355.0,739.0 L356.1,738.1 L357.2,737.3 L358.3,736.4 L359.4,735.5 L360.5,734.6 L361.6,733.7 L362.7,732.9 L363.8,732.0 L364.9,731.2 L366.0,730.3 L367.1,729.5 L368.2,728.7 L369.4,727.8 L370.5,727.0 L371.6,726.2 L372.7,725.3 L373.9,724.5 L375.0,723.7 L376.1,722.9 L377.3,722.0 L378.4,721.2 L379.6,720.4 L380.7,719.6 L381.9,718.8 L383.0,718.1 L384.2,717.3 L385.4,716.5 L386.6,715.8 L387.8,715.1 L389.0,714.4 L390.2,713.7 L391.4,713.0 L392.7,712.4 L394.0,711.8 L395.2,711.3 L396.5,710.7 L397.8,710.1 L399.1,709.6 L400.4,709.0 L401.7,708.5 L402.9,707.9 L404.2,707.3 L405.5,706.7 L406.8,706.2 L408.1,705.6 L409.4,705.1 L410.7,704.6 L412.0,704.1 L413.3,703.6 L414.6,703.1 L415.9,702.7 L417.3,702.3 L418.6,701.8 L419.9,701.4 L421.3,701.0 L422.6,700.7 L424.0,700.3 L425.4,700.0 L426.7,699.7 L428.1,699.4 L429.5,699.2 L430.9,699.0 L432.2,698.7 L433.6,698.5 L434.3,698.4" fill="none" stroke="#0000ff" stroke-width="2.8" stroke-linejoin="round" stroke-linecap="round"/></g>
<g clip-path="url(#clipBL)"><path d="M136.0,829.6 L137.4,829.5 L138.8,829.3 L140.2,829.2 L141.6,829.1 L143.0,829.0 L144.4,828.9 L145.8,828.7 L147.2,828.6 L148.6,828.5 L149.9,828.3 L151.3,828.2 L152.7,828.0 L154.1,827.9 L155.5,827.7 L156.9,827.4 L158.3,827.2 L159.6,827.0 L161.0,826.7 L162.4,826.4 L163.8,826.1 L165.1,825.8 L166.5,825.5 L167.9,825.2 L169.2,824.9 L170.6,824.6 L172.0,824.3 L173.3,824.1 L174.7,823.8 L176.1,823.6 L177.5,823.4 L178.9,823.2 L180.3,823.0 L181.6,822.8 L183.0,822.6 L184.4,822.4 L185.8,822.3 L187.2,822.1 L188.6,822.0 L190.0,821.9 L191.4,821.8 L192.8,821.7 L194.2,821.6 L195.6,821.6 L197.0,821.6 L198.4,821.6 L199.8,821.7 L201.2,821.7 L202.6,821.8 L204.0,821.9 L205.4,822.0 L206.8,822.2 L208.1,822.3 L209.5,822.5 L210.9,822.7 L212.3,822.9 L213.7,823.2 L215.1,823.4 L216.4,823.7 L217.8,824.0 L219.2,824.3 L220.5,824.7 L221.9,825.1 L223.2,825.5 L224.5,825.9 L225.9,826.3 L227.2,826.7 L228.5,827.2 L229.9,827.6 L231.2,828.1 L232.5,828.5 L233.9,828.9 L235.2,829.3 L236.5,829.7 L237.9,830.1 L239.2,830.5 L240.6,830.9 L241.9,831.3 L243.2,831.7 L244.6,832.1 L245.9,832.5 L247.3,832.9 L248.6,833.3 L250.0,833.7 L251.3,834.0 L252.7,834.4 L254.0,834.7 L255.4,835.0 L256.8,835.2 L258.2,835.4 L259.6,835.6 L261.0,835.7 L262.4,835.8 L263.8,835.8 L265.2,835.7 L266.6,835.6 L267.9,835.5 L269.3,835.2 L270.7,834.9 L272.1,834.6 L273.4,834.3 L274.8,834.0 L276.1,833.7 L277.5,833.4 L278.9,833.1 L280.3,832.8 L281.6,832.5 L283.0,832.2 L284.4,831.9 L285.7,831.6 L287.1,831.4 L288.5,831.1 L289.9,830.9 L291.2,830.6 L292.6,830.5 L294.0,830.3 L295.4,830.3 L296.8,830.3 L298.2,830.4 L299.6,830.6 L301.0,830.8 L302.3,831.1 L303.7,831.5 L305.1,831.8 L306.4,832.0 L307.8,832.1 L309.2,832.2 L310.6,832.1 L312.0,831.9 L313.4,831.6 L314.7,831.2 L316.0,830.8 L317.4,830.3 L318.7,829.8 L320.0,829.3 L321.2,828.7 L322.5,828.1 L323.8,827.5 L325.0,826.9 L326.3,826.2 L327.5,825.5 L328.7,824.8 L329.9,824.1 L331.0,823.3 L332.2,822.6 L333.4,821.8 L334.6,821.0 L335.7,820.2 L336.9,819.5 L338.1,818.7 L339.2,817.9 L340.4,817.2 L341.6,816.4 L342.8,815.7 L344.0,814.9 L345.1,814.2 L346.3,813.4 L347.5,812.7 L348.7,811.9 L349.8,811.2 L351.0,810.4 L352.2,809.6 L353.4,808.9 L354.6,808.1 L355.8,807.4 L357.0,806.7 L358.2,806.0 L359.4,805.3 L360.6,804.6 L361.8,803.9 L363.0,803.2 L364.3,802.6 L365.6,802.0 L366.8,801.4 L368.1,800.8 L369.4,800.3 L370.7,799.7 L372.0,799.2 L373.3,798.7 L374.6,798.2 L375.9,797.7 L377.2,797.2 L378.5,796.8 L379.9,796.3 L381.2,795.9 L382.5,795.5 L383.9,795.1 L385.2,794.8 L386.6,794.4 L388.0,794.1 L389.3,793.8 L390.7,793.5 L392.1,793.3 L393.5,793.0 L394.8,792.8 L396.2,792.7 L397.6,792.5 L399.0,792.4 L400.4,792.4 L401.8,792.3 L403.2,792.3 L404.6,792.3 L406.0,792.3 L407.4,792.4 L408.8,792.5 L410.2,792.6 L411.6,792.8 L413.0,793.0 L414.4,793.2 L415.8,793.4 L417.1,793.6 L418.5,793.9 L419.9,794.1 L421.3,794.4 L422.6,794.7 L424.0,795.1 L425.3,795.5 L426.7,795.9 L428.0,796.3 L429.3,796.7 L430.7,797.1 L432.0,797.5 L433.4,797.9 L434.7,798.3 L436.1,798.7 L437.4,799.0 L438.8,799.3 L440.1,799.6 L441.5,799.9 L442.9,800.2 L444.2,800.6 L445.6,801.0 L446.9,801.5 L448.2,802.0 L449.5,802.6 L450.7,803.1 L452.0,803.8 L453.2,804.4 L454.5,805.1 L455.7,805.7 L456.9,806.4 L458.1,807.1 L459.3,807.8 L460.5,808.6 L461.7,809.3 L462.9,810.1 L464.1,810.9 L465.2,811.6 L466.4,812.4 L467.5,813.2 L468.7,814.0 L469.9,814.8 L471.0,815.5 L472.2,816.3 L473.3,817.1 L474.5,817.9 L475.7,818.7 L476.8,819.4 L478.0,820.2 L479.2,821.0 L480.4,821.7 L481.6,822.4 L482.8,823.1 L484.0,823.8 L485.2,824.5 L486.5,825.1 L487.7,825.8 L489.0,826.4 L490.2,827.0 L491.5,827.5 L492.8,828.0 L494.2,828.5 L495.5,828.8 L496.9,829.2 L498.2,829.5 L499.6,829.7 L501.0,829.9 L502.4,830.1 L503.8,830.3 L505.2,830.4 L506.6,830.5 L508.0,830.5 L509.4,830.5 L510.8,830.5 L512.2,830.4 L513.6,830.4 L514.3,830.4" fill="none" stroke="#0000ff" stroke-width="2.8" stroke-linejoin="round" stroke-linecap="round"/></g>
<g clip-path="url(#clipBL)"><path d="M309.9,832.2 L311.1,832.9 L312.3,833.6 L313.5,834.3 L314.8,835.0 L316.0,835.7 L317.2,836.4 L318.4,837.1 L319.6,837.8 L320.8,838.6 L321.9,839.4 L323.1,840.2 L324.2,841.0 L325.2,841.9 L326.3,842.8 L327.3,843.8 L328.3,844.8 L329.3,845.8 L330.3,846.8 L331.3,847.8 L332.2,848.8 L333.2,849.8 L334.1,850.9 L335.0,851.9 L335.9,853.0 L336.8,854.1 L337.7,855.2 L338.5,856.3 L339.4,857.4 L340.3,858.4 L341.3,859.4 L342.4,860.2 L343.7,860.8 L345.0,861.0 L346.3,860.6 L347.4,859.9 L348.6,859.1 L349.6,858.2 L350.6,857.1 L351.5,856.1 L352.4,855.1 L353.4,854.1 L354.5,853.1 L355.5,852.2 L356.6,851.3 L357.7,850.4 L358.8,849.6 L359.9,848.7 L361.0,847.8 L362.1,847.0 L363.2,846.1 L364.3,845.3 L365.4,844.5 L366.6,843.6 L367.7,842.8 L368.8,841.9 L369.9,841.1 L371.0,840.3 L372.1,839.4 L373.3,838.6 L374.4,837.7 L375.5,836.9 L376.6,836.0 L377.7,835.1 L378.8,834.3 L379.9,833.4 L381.0,832.5 L382.0,831.6 L383.1,830.7 L384.2,829.8 L385.3,828.9 L386.4,828.0 L387.4,827.1 L388.5,826.3 L389.6,825.4 L390.7,824.5 L391.8,823.6 L392.9,822.7 L394.0,821.9 L395.1,821.0 L396.2,820.1 L397.3,819.3 L398.4,818.5 L399.6,817.6 L400.7,816.8 L401.8,816.0 L403.0,815.3 L404.2,814.5 L405.3,813.7 L406.5,812.9 L407.7,812.2 L408.9,811.4 L410.1,810.7 L411.3,810.0 L412.5,809.3 L413.7,808.5 L414.9,807.8 L416.1,807.1 L417.3,806.4 L418.5,805.8 L419.8,805.1 L421.0,804.4 L422.2,803.8 L423.5,803.1 L424.7,802.5 L426.0,801.9 L427.3,801.3 L428.6,800.8 L429.8,800.2 L431.1,799.7 L432.4,799.1 L433.7,798.5 L434.3,798.2" fill="none" stroke="#0000ff" stroke-width="2.8" stroke-linejoin="round" stroke-linecap="round"/></g>
<g clip-path="url(#clipBL)"><path d="M136.0,983.3 L137.4,983.1 L138.8,982.9 L140.1,982.6 L141.5,982.3 L142.8,981.9 L144.1,981.4 L145.4,980.8 L146.6,980.2 L147.9,979.5 L149.1,978.8 L150.3,978.0 L151.4,977.3 L152.6,976.5 L153.8,975.8 L154.9,974.9 L156.1,974.1 L157.2,973.3 L158.3,972.5 L159.5,971.7 L160.6,970.9 L161.8,970.1 L162.9,969.3 L164.1,968.5 L165.2,967.7 L166.4,966.8 L167.5,966.0 L168.6,965.2 L169.8,964.4 L170.9,963.5 L172.0,962.7 L173.1,961.8 L174.2,961.0 L175.3,960.1 L176.4,959.2 L177.4,958.3 L178.5,957.4 L179.5,956.5 L180.6,955.5 L181.7,954.6 L182.7,953.7 L183.8,952.8 L184.8,951.8 L185.8,950.9 L186.9,950.0 L187.9,949.1 L189.0,948.1 L190.0,947.2 L191.1,946.3 L192.2,945.4 L193.2,944.5 L194.3,943.5 L195.4,942.6 L196.4,941.7 L197.5,940.8 L198.6,940.0 L199.7,939.1 L200.8,938.2 L201.8,937.3 L202.9,936.4 L204.0,935.6 L205.1,934.7 L206.2,933.8 L207.3,932.9 L208.4,932.1 L209.5,931.2 L210.6,930.3 L211.7,929.5 L212.8,928.6 L213.9,927.7 L215.0,926.9 L216.1,926.0 L217.2,925.1 L218.3,924.2 L219.4,923.4 L220.5,922.5 L221.5,921.6 L222.6,920.7 L223.7,919.8 L224.8,918.9 L225.9,918.0 L227.0,917.2 L228.0,916.3 L229.1,915.4 L230.2,914.5 L231.3,913.7 L232.4,912.8 L233.5,911.9 L234.7,911.1 L235.8,910.2 L236.9,909.4 L238.0,908.6 L239.1,907.7 L240.2,906.9 L241.3,906.0 L242.5,905.2 L243.6,904.3 L244.7,903.5 L245.9,902.7 L247.0,901.9 L248.2,901.2 L249.4,900.5 L250.7,899.8 L251.9,899.2 L253.2,898.7 L254.5,898.1 L255.8,897.7 L257.1,897.2 L258.5,896.8 L259.9,896.5 L261.2,896.2 L262.6,896.0 L264.0,895.9 L265.4,895.8 L266.8,895.7 L268.2,895.8 L269.6,896.0 L270.9,896.2 L272.3,896.5 L273.7,896.8 L275.0,897.2 L276.4,897.5 L277.7,897.9 L279.1,898.2 L280.4,898.6 L281.8,899.0 L283.1,899.4 L284.5,899.8 L285.8,900.2 L287.1,900.6 L288.5,901.1 L289.8,901.5 L291.2,901.9 L292.5,902.2 L293.9,902.4 L295.3,902.6 L296.7,902.7 L298.1,902.7 L299.5,902.7 L300.9,902.6 L302.3,902.4 L303.6,902.1 L305.0,901.8 L306.3,901.4 L307.6,900.9 L308.9,900.3 L310.1,899.6 L311.2,898.8 L312.3,897.9 L313.3,896.9 L314.3,895.9 L315.2,894.9 L316.2,893.9 L317.1,892.8 L318.1,891.8 L319.1,890.9 L320.2,889.9 L321.2,889.0 L322.3,888.1 L323.3,887.2 L324.4,886.2 L325.4,885.3 L326.5,884.4 L327.6,883.5 L328.6,882.6 L329.7,881.7 L330.8,880.8 L331.9,879.9 L332.9,879.0 L334.0,878.1 L335.1,877.2 L336.2,876.3 L337.3,875.5 L338.4,874.6 L339.5,873.8 L340.7,873.1 L342.0,872.5 L343.3,872.2 L344.6,872.4 L345.9,872.9 L347.1,873.6 L348.2,874.4 L349.3,875.2 L350.4,876.1 L351.4,877.1 L352.4,878.0 L353.4,879.1 L354.3,880.1 L355.2,881.2 L356.0,882.3 L356.9,883.5 L357.6,884.6 L358.4,885.8 L359.2,887.0 L359.9,888.2 L360.7,889.3 L361.4,890.5 L362.1,891.7 L362.9,892.9 L363.6,894.1 L364.3,895.3 L365.1,896.5 L365.8,897.7 L366.5,898.9 L367.3,900.1 L368.0,901.2 L368.8,902.4 L369.5,903.6 L370.2,904.8 L370.9,906.0 L371.7,907.2 L372.4,908.4 L373.1,909.6 L373.8,910.8 L374.6,912.0 L375.3,913.2 L376.0,914.4 L376.7,915.6 L377.5,916.8 L378.2,918.0 L378.9,919.2 L379.6,920.4 L380.4,921.6 L381.1,922.8 L381.9,923.9 L382.7,925.1 L383.4,926.3 L384.2,927.5 L384.9,928.7 L385.7,929.8 L386.4,931.0 L387.1,932.2 L387.9,933.4 L388.6,934.6 L389.3,935.8 L390.0,937.0 L390.7,938.3 L391.4,939.5 L392.1,940.7 L392.7,941.9 L393.4,943.1 L394.1,944.4 L394.8,945.6 L395.4,946.8 L396.1,948.1 L396.8,949.3 L397.4,950.5 L398.1,951.8 L398.8,953.0 L399.4,954.2 L400.1,955.4 L400.8,956.7 L401.4,957.9 L402.1,959.1 L402.8,960.4 L403.4,961.6 L404.1,962.8 L404.8,964.1 L405.5,965.3 L406.1,966.5 L406.8,967.7 L407.5,968.9 L408.2,970.2 L408.9,971.4 L409.6,972.6 L410.3,973.8 L411.0,975.0 L411.7,976.2 L412.5,977.4 L413.2,978.6 L413.9,979.8 L414.6,981.0 L415.4,982.2 L416.1,983.4 L416.8,984.6 L417.6,985.8 L418.3,986.9 L419.1,988.1 L419.9,989.3 L420.6,990.4 L421.4,991.6 L422.2,992.8 L423.1,993.9 L423.9,995.0 L424.8,996.1 L425.6,997.2 L426.5,998.3 L427.4,999.4 L428.3,1000.4 L429.2,1001.5 L430.2,1002.5 L431.2,1003.5 L432.3,1004.3 L433.5,1005.0 L434.8,1005.4 L436.2,1005.6 L437.6,1005.4 L438.9,1005.1 L440.3,1004.7 L441.6,1004.2 L442.9,1003.7 L444.2,1003.3 L445.5,1002.8 L446.8,1002.4 L448.2,1001.9 L449.5,1001.4 L450.8,1000.9 L452.1,1000.4 L453.4,999.9 L454.7,999.3 L455.9,998.7 L457.2,998.0 L458.4,997.3 L459.6,996.6 L460.7,995.8 L461.9,995.0 L463.0,994.2 L464.1,993.4 L465.2,992.5 L466.4,991.7 L467.5,990.8 L468.6,990.0 L469.8,989.2 L470.9,988.5 L472.1,987.7 L473.3,986.9 L474.4,986.1 L475.6,985.4 L476.8,984.6 L478.0,983.9 L479.2,983.2 L480.5,982.6 L481.8,982.1 L483.1,981.6 L484.4,981.2 L485.8,980.9 L487.2,980.6 L488.5,980.4 L489.9,980.2 L491.3,980.1 L492.7,980.0 L494.1,979.9 L495.5,979.9 L496.9,980.0 L498.3,980.1 L499.7,980.2 L501.1,980.4 L502.5,980.6 L503.8,980.9 L505.2,981.1 L506.6,981.4 L508.0,981.6 L509.3,981.9 L510.7,982.2 L512.1,982.5 L513.4,982.9 L514.1,983.0" fill="none" stroke="#0000ff" stroke-width="2.8" stroke-linejoin="round" stroke-linecap="round"/></g>
<g clip-path="url(#clipBL)"><path d="M308.7,900.5 L310.1,900.7 L311.5,900.9 L312.9,901.0 L314.3,901.2 L315.6,901.5 L317.0,901.8 L318.3,902.2 L319.6,902.8 L320.8,903.4 L322.0,904.1 L323.2,905.0 L324.3,905.8 L325.3,906.7 L326.4,907.6 L327.4,908.6 L328.5,909.5 L329.5,910.4 L330.6,911.4 L331.6,912.3 L332.6,913.3 L333.7,914.2 L334.7,915.1 L335.7,916.1 L336.7,917.1 L337.8,918.0 L338.8,919.0 L339.8,920.0 L340.8,920.9 L341.8,921.9 L342.8,922.9 L343.8,923.9 L344.7,924.9 L345.7,925.9 L346.7,926.9 L347.7,927.9 L348.6,928.9 L349.6,929.9 L350.5,931.0 L351.5,932.0 L352.4,933.0 L353.4,934.1 L354.3,935.1 L355.2,936.2 L356.1,937.3 L357.0,938.3 L357.9,939.4 L358.8,940.5 L359.6,941.6 L360.5,942.7 L361.4,943.8 L362.2,944.9 L363.1,946.0 L363.9,947.2 L364.7,948.3 L365.6,949.4 L366.4,950.5 L367.2,951.7 L368.1,952.8 L368.9,953.9 L369.7,955.0 L370.6,956.2 L371.4,957.3 L372.2,958.4 L373.1,959.5 L373.9,960.7 L374.7,961.8 L375.6,962.9 L376.4,964.0 L377.3,965.1 L378.1,966.2 L379.0,967.4 L379.8,968.5 L380.7,969.6 L381.5,970.7 L382.4,971.8 L383.2,972.9 L384.1,974.0 L384.9,975.2 L385.7,976.3 L386.6,977.4 L387.4,978.5 L388.3,979.6 L389.1,980.7 L390.0,981.9 L390.8,983.0 L391.7,984.1 L392.5,985.2 L393.4,986.3 L394.2,987.4 L395.1,988.5 L396.0,989.6 L396.8,990.7 L397.7,991.8 L398.6,992.9 L399.5,994.0 L400.4,995.1 L401.2,996.1 L402.1,997.2 L403.0,998.3 L403.9,999.4 L404.7,1000.5 L405.6,1001.6 L406.5,1002.7 L407.4,1003.7 L408.4,1004.7 L409.4,1005.7 L410.5,1006.6 L411.6,1007.5 L412.7,1008.3 L413.9,1009.0 L415.1,1009.7 L416.4,1010.3 L417.7,1010.9 L419.0,1011.3 L420.4,1011.5 L421.7,1011.6 L423.1,1011.5 L424.5,1011.2 L425.8,1010.7 L427.0,1010.1 L428.2,1009.4 L429.4,1008.6 L430.6,1007.9 L431.8,1007.1 L433.0,1006.4 L434.2,1005.7" fill="none" stroke="#0000ff" stroke-width="2.8" stroke-linejoin="round" stroke-linecap="round"/></g>
<g clip-path="url(#clipBL)"><path d="M136.0,1037.4 L137.4,1037.8 L138.7,1038.1 L140.1,1038.5 L141.4,1038.9 L142.6,1039.6 L143.7,1040.4 L144.7,1041.4 L145.6,1042.5 L146.4,1043.6 L147.3,1044.7 L148.1,1045.8 L149.0,1046.9 L149.8,1048.0 L150.7,1049.1 L151.5,1050.3 L152.4,1051.4 L153.2,1052.5 L154.0,1053.7 L154.8,1054.8 L155.6,1055.9 L156.4,1057.1 L157.2,1058.2 L158.0,1059.4 L158.8,1060.6 L159.5,1061.7 L160.3,1062.9 L161.0,1064.1 L161.7,1065.3 L162.4,1066.6 L163.0,1067.8 L163.7,1069.0 L164.3,1070.3 L165.0,1071.5 L165.6,1072.8 L166.3,1074.0 L166.9,1075.3 L167.5,1076.5 L168.1,1077.8 L168.7,1079.0 L169.4,1080.3 L170.0,1081.5 L170.6,1082.8 L171.2,1084.1 L171.7,1085.4 L172.3,1086.6 L172.9,1087.9 L173.5,1089.2 L174.0,1090.5 L174.5,1091.8 L175.1,1093.1 L175.6,1094.4 L176.1,1095.7 L176.7,1097.0 L177.2,1098.3 L177.7,1099.6 L178.2,1100.9 L178.7,1102.2 L179.2,1103.5 L179.7,1104.8 L180.2,1106.1 L180.7,1107.4 L181.2,1108.7 L181.7,1110.0 L182.2,1111.3 L182.7,1112.6 L183.1,1114.0 L183.6,1115.3 L184.1,1116.6 L184.6,1117.9 L185.0,1119.2 L185.5,1120.5 L186.0,1121.9 L186.4,1123.2 L186.8,1124.5 L187.3,1125.9 L187.7,1127.2 L188.1,1128.5 L188.6,1129.9 L189.0,1131.2 L189.4,1132.5 L189.8,1133.8 L190.4,1134.6 L191.1,1134.3 L191.6,1133.3 L192.1,1132.0 L192.6,1130.7 L193.0,1129.3 L193.5,1128.0 L194.0,1126.7 L194.5,1125.4 L194.9,1124.1 L195.4,1122.7 L195.9,1121.4 L196.4,1120.1 L196.9,1118.8 L197.4,1117.5 L197.9,1116.2 L198.4,1114.9 L199.0,1113.6 L199.5,1112.3 L200.1,1111.1 L200.6,1109.8 L201.2,1108.5 L201.8,1107.2 L202.4,1105.9 L203.0,1104.7 L203.5,1103.4 L204.1,1102.1 L204.7,1100.9 L205.3,1099.6 L205.9,1098.3 L206.5,1097.1 L207.1,1095.8 L207.7,1094.5 L208.3,1093.2 L208.9,1092.0 L209.4,1090.7 L210.0,1089.4 L210.6,1088.2 L211.2,1086.9 L211.8,1085.6 L212.3,1084.3 L212.9,1083.1 L213.5,1081.8 L214.1,1080.5 L214.6,1079.2 L215.2,1077.9 L215.8,1076.7 L216.4,1075.4 L216.9,1074.1 L217.5,1072.8 L218.1,1071.6 L218.7,1070.3 L219.2,1069.0 L219.8,1067.7 L220.4,1066.5 L221.0,1065.2 L221.6,1063.9 L222.2,1062.7 L222.8,1061.4 L223.4,1060.1 L224.0,1058.9 L224.5,1057.6 L225.1,1056.3 L225.7,1055.1 L226.4,1053.8 L227.0,1052.5 L227.6,1051.3 L228.2,1050.0 L228.8,1048.7 L229.4,1047.5 L230.0,1046.2 L230.6,1045.0 L231.2,1043.7 L231.8,1042.4 L232.4,1041.2 L233.0,1039.9 L233.6,1038.7 L234.2,1037.4 L234.9,1036.1 L235.5,1034.9 L236.1,1033.6 L236.7,1032.3 L237.3,1031.1 L237.8,1029.8 L238.4,1028.5 L239.0,1027.3 L239.6,1026.0 L240.2,1024.7 L240.8,1023.5 L241.4,1022.2 L242.0,1020.9 L242.6,1019.7 L243.2,1018.4 L243.8,1017.1 L244.4,1015.9 L245.0,1014.6 L245.6,1013.3 L246.2,1012.1 L246.9,1010.8 L247.5,1009.6 L248.1,1008.3 L248.8,1007.1 L249.4,1005.9 L250.1,1004.6 L250.8,1003.4 L251.4,1002.2 L252.1,1000.9 L252.8,999.7 L253.4,998.5 L254.1,997.3 L254.8,996.0 L255.5,994.8 L256.2,993.6 L256.9,992.4 L257.6,991.2 L258.3,989.9 L259.0,988.7 L259.7,987.5 L260.4,986.3 L261.1,985.1 L261.8,983.9 L262.5,982.7 L263.2,981.5 L263.9,980.3 L264.6,979.1 L265.3,977.9 L266.1,976.7 L266.8,975.5 L267.5,974.3 L268.3,973.1 L269.0,971.9 L269.8,970.8 L270.6,969.6 L271.4,968.5 L272.3,967.3 L273.1,966.2 L273.9,965.1 L274.8,964.0 L275.6,962.9 L276.5,961.8 L277.4,960.7 L278.3,959.6 L279.2,958.6 L280.1,957.5 L281.1,956.5 L282.1,955.6 L283.2,954.7 L284.3,953.8 L285.5,953.1 L286.7,952.4 L288.0,951.8 L289.3,951.2 L290.6,950.8 L291.9,950.4 L293.3,950.2 L294.7,950.1 L296.1,950.1 L297.5,950.2 L298.9,950.5 L300.2,950.8 L301.5,951.3 L302.8,951.8 L304.1,952.4 L305.3,953.1 L306.5,953.8 L307.7,954.6 L308.8,955.4 L309.9,956.3 L310.9,957.3 L311.9,958.3 L312.8,959.3 L313.8,960.3 L314.7,961.4 L315.6,962.5 L316.4,963.6 L317.3,964.7 L318.1,965.8 L319.0,966.9 L319.8,968.0 L320.6,969.2 L321.4,970.3 L322.2,971.5 L323.0,972.7 L323.7,973.8 L324.4,975.0 L325.2,976.2 L325.9,977.4 L326.6,978.6 L327.3,979.8 L328.0,981.1 L328.7,982.3 L329.4,983.5 L330.1,984.7 L330.9,985.9 L331.6,987.1 L332.3,988.3 L333.0,989.5 L333.7,990.7 L334.4,991.9 L335.1,993.1 L335.8,994.3 L336.5,995.5 L337.2,996.8 L337.9,998.0 L338.6,999.2 L339.3,1000.4 L339.9,1001.7 L340.6,1002.9 L341.2,1004.2 L341.8,1005.4 L342.4,1006.7 L343.0,1007.9 L343.6,1009.2 L344.1,1010.5 L344.6,1011.8 L345.2,1013.1 L345.7,1014.4 L346.2,1015.7 L346.6,1017.0 L347.1,1018.4 L347.6,1019.7 L348.1,1021.0 L348.6,1022.3 L349.1,1023.6 L349.6,1024.9 L350.1,1026.2 L350.6,1027.5 L351.1,1028.8 L351.7,1030.1 L352.2,1031.4 L352.8,1032.7 L353.3,1034.0 L353.9,1035.2 L354.5,1036.5 L355.0,1037.8 L355.6,1039.1 L356.2,1040.3 L356.8,1041.6 L357.4,1042.9 L358.0,1044.2 L358.5,1045.4 L359.1,1046.7 L359.7,1048.0 L360.3,1049.2 L360.9,1050.5 L361.5,1051.8 L362.1,1053.0 L362.7,1054.3 L363.3,1055.6 L363.9,1056.8 L364.5,1058.1 L365.1,1059.3 L365.7,1060.6 L366.3,1061.9 L366.9,1063.1 L367.5,1064.4 L368.1,1065.7 L368.7,1066.9 L369.3,1068.2 L369.9,1069.5 L370.5,1070.7 L371.1,1072.0 L371.7,1073.3 L372.4,1074.5 L373.0,1075.8 L373.6,1077.0 L374.3,1078.3 L374.9,1079.5 L375.6,1080.7 L376.3,1081.9 L377.0,1083.1 L377.7,1084.3 L378.5,1085.5 L379.3,1086.7 L380.0,1087.9 L380.8,1089.0 L381.6,1090.2 L382.5,1091.3 L383.3,1092.4 L384.1,1093.5 L385.0,1094.7 L385.8,1095.8 L386.7,1096.9 L387.5,1098.0 L388.4,1099.1 L389.2,1100.2 L390.1,1101.3 L390.9,1102.4 L391.7,1103.6 L392.6,1104.7 L393.4,1105.8 L394.3,1106.9 L395.1,1108.0 L396.0,1109.1 L396.9,1110.2 L397.9,1111.2 L398.9,1112.1 L400.0,1113.1 L401.0,1114.0 L402.2,1114.8 L403.3,1115.6 L404.5,1116.3 L405.7,1117.1 L406.9,1117.7 L408.2,1118.3 L409.5,1118.8 L410.8,1119.3 L412.2,1119.7 L413.5,1119.9 L414.9,1120.0 L416.3,1119.9 L417.7,1119.7 L419.1,1119.5 L420.4,1119.2 L421.8,1118.9 L423.2,1118.6 L424.6,1118.3 L425.9,1118.1 L427.3,1118.0 L428.7,1117.9 L430.1,1117.9 L431.5,1117.8 L432.9,1117.7 L434.3,1117.6 L435.7,1117.5 L437.1,1117.4 L438.5,1117.4 L439.9,1117.3 L441.3,1117.1 L442.6,1116.8 L443.9,1116.3 L445.1,1115.6 L446.1,1114.7 L447.0,1113.6 L447.7,1112.4 L448.4,1111.1 L449.0,1109.9 L449.6,1108.6 L450.3,1107.4 L450.9,1106.2 L451.6,1105.0 L452.4,1103.8 L453.1,1102.6 L453.8,1101.4 L454.6,1100.2 L455.3,1099.0 L456.1,1097.8 L456.9,1096.7 L457.6,1095.5 L458.4,1094.3 L459.2,1093.2 L460.0,1092.0 L460.8,1090.9 L461.6,1089.7 L462.4,1088.6 L463.2,1087.5 L464.1,1086.3 L464.9,1085.2 L465.7,1084.1 L466.5,1082.9 L467.4,1081.8 L468.2,1080.7 L469.0,1079.5 L469.8,1078.4 L470.7,1077.3 L471.5,1076.2 L472.3,1075.0 L473.2,1073.9 L474.0,1072.8 L474.9,1071.7 L475.7,1070.6 L476.6,1069.4 L477.4,1068.3 L478.3,1067.2 L479.1,1066.1 L480.0,1065.0 L480.9,1064.0 L481.8,1062.9 L482.7,1061.8 L483.6,1060.7 L484.5,1059.7 L485.4,1058.6 L486.3,1057.5 L487.2,1056.5 L488.1,1055.4 L489.1,1054.4 L490.0,1053.3 L491.0,1052.3 L492.0,1051.3 L493.0,1050.3 L494.0,1049.4 L495.0,1048.5 L496.1,1047.6 L497.2,1046.7 L498.3,1045.8 L499.4,1045.0 L500.5,1044.1 L501.7,1043.3 L502.9,1042.6 L504.0,1041.8 L505.2,1041.1 L506.5,1040.5 L507.7,1039.9 L509.0,1039.3 L510.4,1038.9 L511.7,1038.5 L513.1,1038.1 L514.4,1037.7" fill="none" stroke="#0000ff" stroke-width="2.8" stroke-linejoin="round" stroke-linecap="round"/></g>
<g clip-path="url(#clipBL)"><path d="M330.8,986.5 L331.5,987.7 L332.2,988.9 L332.9,990.1 L333.6,991.3 L334.3,992.6 L335.0,993.8 L335.7,995.0 L336.4,996.2 L337.1,997.4 L337.8,998.6 L338.5,999.8 L339.2,1001.0 L339.9,1002.2 L340.6,1003.5 L341.3,1004.7 L342.0,1005.9 L342.7,1007.1 L343.4,1008.4 L344.0,1009.6 L344.7,1010.8 L345.3,1012.1 L346.0,1013.3 L346.6,1014.6 L347.2,1015.8 L347.9,1017.0 L348.5,1018.3 L349.2,1019.5 L349.8,1020.8 L350.5,1022.0 L351.1,1023.2 L351.8,1024.5 L352.5,1025.7 L353.2,1026.9 L353.9,1028.1 L354.7,1029.3 L355.4,1030.5 L356.2,1031.6 L356.9,1032.8 L357.7,1034.0 L358.5,1035.1 L359.3,1036.3 L360.1,1037.4 L360.9,1038.6 L361.7,1039.7 L362.5,1040.9 L363.4,1042.0 L364.2,1043.1 L365.0,1044.2 L365.9,1045.4 L366.7,1046.5 L367.5,1047.6 L368.4,1048.7 L369.2,1049.8 L370.1,1050.9 L370.9,1052.1 L371.8,1053.2 L372.6,1054.3 L373.5,1055.4 L374.3,1056.5 L375.2,1057.6 L376.0,1058.7 L376.9,1059.8 L377.8,1060.9 L378.6,1062.1 L379.5,1063.2 L380.3,1064.3 L381.2,1065.4 L382.1,1066.5 L382.9,1067.6 L383.8,1068.7 L384.7,1069.8 L385.5,1070.9 L386.4,1071.9 L387.3,1073.0 L388.2,1074.1 L389.0,1075.2 L389.9,1076.3 L390.8,1077.4 L391.7,1078.5 L392.6,1079.6 L393.4,1080.7 L394.3,1081.7 L395.2,1082.8 L396.1,1083.9 L397.0,1085.0 L397.9,1086.1 L398.7,1087.2 L399.6,1088.3 L400.5,1089.4 L401.4,1090.5 L402.2,1091.6 L403.1,1092.7 L404.0,1093.8 L404.8,1094.9 L405.7,1096.0 L406.5,1097.1 L407.4,1098.2 L408.2,1099.3 L409.1,1100.4 L410.0,1101.5 L410.8,1102.6 L411.7,1103.7 L412.6,1104.7 L413.6,1105.8 L414.5,1106.8 L415.5,1107.8 L416.5,1108.8 L417.5,1109.7 L418.6,1110.6 L419.7,1111.5 L420.8,1112.4 L421.9,1113.3 L423.0,1114.1 L424.2,1114.8 L425.4,1115.6 L426.6,1116.2 L427.9,1116.8 L429.2,1117.2 L430.6,1117.4 L432.0,1117.5 L433.4,1117.5 L434.1,1117.6" fill="none" stroke="#0000ff" stroke-width="2.8" stroke-linejoin="round" stroke-linecap="round"/></g>
<g clip-path="url(#clipBL)"><path d="M164.0,1210.0 L164.5,1208.7 L165.0,1207.4 L165.6,1206.1 L166.1,1204.8 L166.6,1203.5 L167.1,1202.2 L167.7,1200.9 L168.2,1199.6 L168.7,1198.3 L169.2,1197.0 L169.8,1195.7 L170.3,1194.4 L170.8,1193.1 L171.3,1191.8 L171.9,1190.5 L172.4,1189.2 L172.9,1187.9 L173.4,1186.6 L174.0,1185.3 L174.5,1184.0 L175.0,1182.7 L175.5,1181.4 L176.0,1180.1 L176.5,1178.8 L177.1,1177.5 L177.6,1176.2 L178.1,1174.9 L178.6,1173.6 L179.1,1172.3 L179.6,1171.0 L180.1,1169.7 L180.6,1168.4 L181.1,1167.1 L181.6,1165.8 L182.1,1164.5 L182.6,1163.2 L183.1,1161.9 L183.6,1160.6 L184.1,1159.2 L184.6,1157.9 L185.1,1156.6 L185.6,1155.3 L186.1,1154.0 L186.6,1152.7 L187.1,1151.4 L187.6,1150.1 L188.1,1148.8 L188.6,1147.5 L189.2,1146.2 L189.9,1145.2 L190.8,1144.9 L191.8,1145.6 L192.6,1146.6 L193.4,1147.8 L194.2,1148.9 L195.0,1150.1 L195.7,1151.3 L196.3,1152.6 L196.9,1153.8 L197.4,1155.1 L197.9,1156.5 L198.3,1157.8 L198.8,1159.1 L199.2,1160.4 L199.7,1161.7 L200.2,1163.1 L200.7,1164.4 L201.2,1165.7 L201.7,1167.0 L202.2,1168.3 L202.8,1169.6 L203.3,1170.8 L204.0,1172.0 L204.9,1172.6 L206.0,1172.4 L206.8,1171.4 L207.6,1170.3 L208.3,1169.1 L209.1,1167.9 L210.0,1166.8 L210.9,1165.8 L211.8,1164.7 L212.7,1163.6 L213.6,1162.6 L214.5,1161.5 L215.4,1160.4 L216.2,1159.3 L217.1,1158.2 L217.9,1157.1 L218.8,1156.0 L219.6,1154.8 L220.4,1153.7 L221.3,1152.6 L222.1,1151.4 L222.9,1150.3 L223.7,1149.2 L224.6,1148.1 L225.4,1147.0 L226.3,1145.9 L227.2,1144.8 L228.0,1143.7 L228.9,1142.6 L229.8,1141.5 L230.6,1140.4 L231.5,1139.3 L232.4,1138.2 L233.3,1137.2 L234.3,1136.1 L235.2,1135.1 L236.2,1134.0 L237.1,1133.0 L238.1,1132.0 L239.1,1131.1 L240.1,1130.1 L241.1,1129.1 L242.2,1128.2 L243.3,1127.3 L244.3,1126.4 L245.5,1125.6 L246.6,1124.8 L247.8,1124.0 L249.0,1123.3 L250.2,1122.6 L251.5,1122.0 L252.7,1121.4 L254.0,1120.9 L255.3,1120.4 L256.7,1120.0 L258.0,1119.6 L259.4,1119.3 L260.8,1119.0 L262.1,1118.8 L263.5,1118.7 L264.9,1118.6 L266.3,1118.5 L267.7,1118.6 L269.1,1118.7 L270.5,1118.9 L271.9,1119.1 L273.3,1119.3 L274.7,1119.5 L276.0,1119.7 L277.4,1119.8 L278.8,1120.0 L280.2,1120.1 L281.6,1120.3 L283.0,1120.4 L284.4,1120.5 L285.8,1120.7 L287.2,1120.8 L288.6,1120.9 L290.0,1121.0 L291.4,1121.0 L292.8,1121.1 L294.2,1121.1 L295.6,1121.1 L297.0,1121.0 L298.4,1121.0 L299.8,1120.9 L301.2,1120.7 L302.6,1120.5 L303.9,1120.4 L305.3,1120.1 L306.7,1119.9 L308.1,1119.6 L309.4,1119.3 L310.8,1118.9 L312.1,1118.6 L313.5,1118.1 L314.8,1117.6 L316.1,1117.1 L317.4,1116.6 L318.7,1116.2 L320.0,1115.7 L321.4,1115.3 L322.7,1114.9 L324.1,1114.6 L325.4,1114.3 L326.8,1114.0 L328.2,1113.7 L329.6,1113.4 L330.9,1113.2 L332.3,1112.9 L333.7,1112.7 L335.1,1112.5 L336.5,1112.4 L337.9,1112.3 L339.3,1112.2 L340.7,1112.2 L342.1,1112.2 L343.5,1112.2 L344.9,1112.3 L346.2,1112.5 L347.6,1112.7 L349.0,1112.9 L350.4,1113.2 L351.8,1113.5 L353.1,1113.8 L354.5,1114.2 L355.8,1114.6 L357.1,1115.1 L358.4,1115.6 L359.7,1116.1 L361.0,1116.7 L362.3,1117.3 L363.5,1118.0 L364.7,1118.7 L365.8,1119.5 L366.9,1120.3 L368.0,1121.3 L369.0,1122.2 L370.0,1123.2 L370.9,1124.3 L371.8,1125.4 L372.7,1126.5 L373.5,1127.6 L374.3,1128.7 L375.1,1129.9 L375.9,1131.0 L376.6,1132.2 L377.4,1133.4 L378.1,1134.6 L378.9,1135.8 L379.6,1137.0 L380.3,1138.2 L381.0,1139.4 L381.6,1140.6 L382.3,1141.9 L382.9,1143.2 L383.4,1144.4 L384.0,1145.7 L384.6,1147.0 L385.1,1148.3 L385.7,1149.5 L386.3,1150.8 L386.8,1152.1 L387.4,1153.4 L388.0,1154.6 L388.6,1155.9 L389.3,1157.1 L390.0,1158.3 L390.8,1159.5 L391.7,1160.6 L392.6,1161.6 L393.6,1162.6 L394.7,1163.3 L396.0,1163.5 L397.1,1163.0 L398.1,1162.0 L398.9,1160.9 L399.6,1159.7 L400.3,1158.5 L401.0,1157.3 L401.9,1156.2 L402.7,1155.1 L403.7,1154.1 L404.7,1153.1 L405.6,1152.1 L406.6,1151.1 L407.6,1150.1 L408.6,1149.1 L409.7,1148.2 L410.8,1147.3 L411.9,1146.4 L413.0,1145.6 L414.2,1144.9 L415.4,1144.2 L416.7,1143.6 L418.0,1143.2 L419.3,1142.8 L420.7,1142.6 L422.1,1142.4 L423.5,1142.3 L424.9,1142.3 L426.3,1142.3 L427.7,1142.3 L429.1,1142.4 L430.5,1142.4 L431.9,1142.6 L433.3,1142.7 L434.7,1142.8 L436.1,1142.8 L437.5,1142.7 L438.8,1142.6 L440.2,1142.4 L441.6,1142.3 L443.0,1142.3 L444.4,1142.4 L445.8,1142.7 L447.1,1143.2 L448.3,1143.8 L449.4,1144.6 L450.5,1145.5 L451.5,1146.5 L452.4,1147.5 L453.4,1148.6 L454.2,1149.7 L455.1,1150.8 L455.9,1151.9 L456.8,1153.1 L457.6,1154.2 L458.4,1155.3 L459.2,1156.5 L460.0,1157.7 L460.7,1158.8 L461.4,1160.0 L462.2,1161.2 L462.9,1162.4 L463.6,1163.7 L464.2,1164.9 L464.9,1166.1 L465.5,1167.3 L466.2,1168.6 L466.8,1169.8 L467.5,1171.1 L468.1,1172.3 L468.7,1173.6 L469.3,1174.8 L470.0,1176.1 L470.6,1177.4 L471.2,1178.6 L471.8,1179.9 L472.4,1181.1 L473.0,1182.4 L473.6,1183.7 L474.2,1184.9 L474.8,1186.2 L475.4,1187.5 L475.9,1188.8 L476.5,1190.0 L477.1,1191.3 L477.6,1192.6 L478.2,1193.9 L478.7,1195.2 L479.3,1196.5 L479.8,1197.8 L480.3,1199.1 L480.9,1200.3 L481.4,1201.6 L482.0,1202.9 L482.5,1204.2 L483.1,1205.5 L483.6,1206.8 L484.2,1208.1 L484.7,1209.4" fill="none" stroke="#0000ff" stroke-width="2.8" stroke-linejoin="round" stroke-linecap="round"/></g>
<g clip-path="url(#clipBL)"><path d="M309.9,1119.4 L311.3,1119.7 L312.6,1119.9 L314.0,1120.2 L315.4,1120.4 L316.8,1120.6 L318.2,1120.9 L319.5,1121.2 L320.9,1121.6 L322.2,1122.1 L323.5,1122.6 L324.7,1123.2 L326.0,1123.8 L327.2,1124.5 L328.4,1125.2 L329.6,1126.0 L330.8,1126.7 L331.9,1127.5 L333.1,1128.4 L334.2,1129.2 L335.3,1130.1 L336.4,1131.0 L337.4,1131.9 L338.5,1132.8 L339.5,1133.7 L340.5,1134.7 L341.5,1135.7 L342.5,1136.7 L343.4,1137.7 L344.3,1138.8 L345.2,1139.9 L346.1,1141.0 L346.9,1142.1 L347.8,1143.2 L348.6,1144.4 L349.4,1145.5 L350.2,1146.7 L350.9,1147.8 L351.7,1149.0 L352.5,1150.2 L353.2,1151.4 L353.9,1152.6 L354.7,1153.8 L355.4,1155.0 L356.1,1156.2 L356.8,1157.4 L357.5,1158.6 L358.2,1159.8 L358.9,1161.0 L359.6,1162.2 L360.3,1163.4 L361.0,1164.6 L361.7,1165.8 L362.4,1167.1 L363.1,1168.3 L363.8,1169.5 L364.5,1170.7 L365.1,1172.0 L365.8,1173.2 L366.4,1174.4 L367.1,1175.7 L367.7,1176.9 L368.3,1178.2 L368.9,1179.4 L369.5,1180.7 L370.1,1182.0 L370.7,1183.3 L371.2,1184.5 L371.8,1185.8 L372.3,1187.1 L372.8,1188.4 L373.3,1189.8 L373.7,1191.1 L374.2,1192.4 L374.6,1193.7 L375.0,1195.1 L375.4,1196.4 L375.8,1197.8 L376.1,1199.1 L376.5,1200.5 L376.8,1201.8 L377.2,1203.2 L377.5,1204.6 L377.9,1205.9 L378.2,1207.3 L378.6,1208.6 L379.0,1210.0" fill="none" stroke="#0000ff" stroke-width="2.8" stroke-linejoin="round" stroke-linecap="round"/></g>
<g clip-path="url(#clipBL)"><path d="M192.3,1210.0 L192.9,1208.7 L193.5,1207.5 L194.1,1206.2 L194.6,1204.9 L195.2,1203.6 L195.8,1202.4 L196.4,1201.1 L196.9,1199.8 L197.5,1198.5 L198.1,1197.3 L198.8,1196.0 L199.4,1194.8 L200.2,1193.6 L200.9,1192.4 L201.7,1191.3 L202.7,1190.4 L203.8,1190.0 L204.9,1190.4 L205.9,1191.4 L206.7,1192.5 L207.3,1193.7 L207.9,1195.0 L208.4,1196.3 L208.9,1197.6 L209.3,1199.0 L209.7,1200.3 L210.1,1201.7 L210.5,1203.0 L210.9,1204.4 L211.2,1205.7 L211.6,1207.1 L212.0,1208.4 L212.4,1209.7" fill="none" stroke="#0000ff" stroke-width="2.8" stroke-linejoin="round" stroke-linecap="round"/></g>
<g clip-path="url(#clipBL)"><path d="M274.0,1210.0 L274.9,1208.9 L275.8,1207.8 L276.6,1206.7 L277.5,1205.6 L278.3,1204.5 L279.2,1203.4 L280.1,1202.3 L280.9,1201.2 L281.9,1200.2 L282.8,1199.1 L283.8,1198.1 L284.8,1197.2 L286.0,1196.4 L287.1,1195.6 L288.4,1195.0 L289.7,1194.4 L291.0,1194.0 L292.3,1193.6 L293.7,1193.4 L295.1,1193.3 L296.5,1193.3 L297.9,1193.4 L299.3,1193.6 L300.6,1193.9 L302.0,1194.2 L303.3,1194.7 L304.6,1195.2 L305.8,1195.9 L307.0,1196.6 L308.2,1197.4 L309.2,1198.3 L310.2,1199.3 L311.1,1200.4 L312.0,1201.5 L312.8,1202.6 L313.6,1203.7 L314.4,1204.9 L315.2,1206.0 L316.0,1207.2 L316.8,1208.3 L317.6,1209.5" fill="none" stroke="#0000ff" stroke-width="2.8" stroke-linejoin="round" stroke-linecap="round"/></g>
<g clip-path="url(#clipBL)"><path d="M382.0,1210.0 L382.6,1208.7 L383.1,1207.4 L383.7,1206.2 L384.2,1204.9 L384.8,1203.6 L385.3,1202.3 L385.9,1201.0 L386.4,1199.7 L387.0,1198.4 L387.5,1197.1 L388.1,1195.9 L388.7,1194.6 L389.2,1193.3 L389.8,1192.0 L390.4,1190.8 L391.1,1189.5 L391.8,1188.3 L392.5,1187.1 L393.2,1185.9 L394.0,1184.8 L395.0,1183.8 L396.1,1183.4 L397.2,1183.8 L398.1,1184.8 L398.9,1185.9 L399.5,1187.2 L400.1,1188.4 L400.7,1189.7 L401.2,1191.0 L401.7,1192.3 L402.1,1193.6 L402.5,1195.0 L402.9,1196.3 L403.3,1197.7 L403.7,1199.0 L404.1,1200.4 L404.5,1201.7 L404.9,1203.0 L405.3,1204.4 L405.7,1205.7 L406.1,1207.1 L406.5,1208.4 L406.9,1209.7" fill="none" stroke="#0000ff" stroke-width="2.8" stroke-linejoin="round" stroke-linecap="round"/></g>
<g clip-path="url(#clipBL)"><path d="M392.5,1210.0 L393.1,1208.7 L393.7,1207.5 L394.3,1206.2 L394.9,1204.9 L395.4,1203.6 L396.0,1202.4 L396.6,1201.1 L397.2,1199.8 L397.8,1198.6 L398.4,1197.3 L398.9,1196.0 L399.5,1194.7 L400.1,1193.5 L400.7,1192.2 L401.3,1190.9 L401.9,1189.7 L402.5,1188.4 L403.1,1187.1 L403.7,1185.9 L404.3,1184.6 L404.9,1183.3 L405.5,1182.1 L406.1,1180.8 L406.7,1179.6 L407.3,1178.3 L408.0,1177.1 L408.6,1175.8 L409.2,1174.5 L409.8,1173.3 L410.4,1172.0 L411.0,1170.7 L411.6,1169.5 L412.2,1168.2 L412.8,1166.9 L413.4,1165.7 L414.0,1164.4 L414.7,1163.2 L415.3,1161.9 L416.0,1160.7 L416.7,1159.5 L417.4,1158.3 L418.1,1157.1 L418.9,1155.9 L419.7,1154.8 L420.6,1153.7 L421.5,1152.6 L422.5,1151.6 L423.5,1150.7 L424.6,1149.8 L425.7,1148.9 L426.8,1148.1 L428.0,1147.4 L429.2,1146.6 L430.3,1145.9 L431.5,1145.1 L432.7,1144.4 L433.9,1143.6 L434.5,1143.2" fill="none" stroke="#0000ff" stroke-width="2.8" stroke-linejoin="round" stroke-linecap="round"/></g>
<g clip-path="url(#clipBR)"><path d="M888.0,655.0 L888.0,656.4 L888.0,657.8 L888.0,659.2 L888.0,660.6 L888.0,662.0 L888.0,663.4 L888.0,664.8 L888.0,666.2 L888.0,667.6 L888.0,669.0 L888.0,670.4 L888.0,671.8 L888.0,673.2 L888.1,674.6 L888.0,676.0 L888.0,677.4 L887.8,678.8 L887.6,680.2 L887.2,681.5 L886.7,682.8 L885.9,684.0 L885.1,685.0 L884.1,686.0 L883.0,686.9 L881.8,687.7 L880.7,688.4 L879.5,689.2 L878.3,689.9 L877.0,690.6 L875.8,691.3 L874.6,692.0 L873.4,692.6 L872.1,693.3 L870.9,694.0 L869.7,694.6 L868.4,695.2 L867.1,695.8 L865.9,696.4 L864.6,697.0 L863.3,697.6 L862.1,698.2 L860.8,698.8 L859.6,699.5 L858.4,700.2 L857.2,700.9 L856.0,701.6 L854.8,702.4 L853.7,703.2 L852.5,704.0 L851.4,704.9 L850.3,705.7 L849.2,706.6 L848.2,707.6 L847.2,708.6 L846.3,709.6 L845.4,710.7 L844.5,711.8 L843.8,712.9 L843.0,714.1 L842.4,715.4 L841.7,716.6 L841.2,717.9 L840.8,719.2 L840.4,720.6 L840.2,722.0 L840.0,723.4 L839.9,724.8 L839.9,726.2 L840.0,727.5 L840.0,728.9 L840.1,730.3 L840.3,731.7 L840.4,733.1 L840.7,734.5 L840.9,735.9 L841.2,737.3 L841.5,738.6 L841.9,740.0 L842.4,741.3 L842.9,742.6 L843.4,743.9 L844.0,745.2 L844.6,746.4 L845.2,747.7 L845.9,748.9 L846.6,750.1 L847.4,751.3 L848.2,752.4 L849.1,753.5 L850.0,754.6 L850.9,755.6 L851.9,756.6 L853.0,757.5 L854.0,758.4 L855.1,759.3 L856.2,760.1 L857.4,761.0 L858.5,761.8 L859.6,762.6 L860.8,763.3 L862.0,764.1 L863.2,764.9 L864.4,765.6 L865.6,766.3 L866.8,767.0 L868.0,767.6 L869.3,768.2 L870.6,768.9 L871.8,769.4 L873.1,770.0 L874.4,770.6 L875.6,771.2 L876.9,771.8 L878.2,772.4 L879.4,773.1 L880.6,773.7 L881.9,774.4 L883.1,775.0 L884.3,775.7 L885.5,776.5 L886.5,777.5 L887.3,778.6 L887.8,779.8 L888.1,781.2 L888.2,782.6 L888.2,784.0 L888.1,785.4 L887.8,786.7 L887.4,788.1 L886.8,789.3 L886.0,790.5 L885.1,791.4 L883.9,792.3 L882.7,792.9 L881.4,793.4 L880.1,793.8 L878.7,794.2 L877.3,794.5 L876.0,794.8 L874.6,795.1 L873.3,795.5 L871.9,795.8 L870.6,796.2 L869.2,796.6 L867.9,797.0 L866.5,797.3 L865.2,797.7 L863.8,798.1 L862.5,798.5 L861.1,798.9 L859.8,799.3 L858.5,799.7 L857.1,800.2 L855.8,800.7 L854.5,801.2 L853.2,801.7 L851.9,802.2 L850.6,802.7 L849.3,803.3 L848.1,803.8 L846.8,804.5 L845.6,805.2 L844.5,806.0 L843.4,806.9 L842.5,807.9 L841.8,809.1 L841.2,810.4 L840.9,811.7 L840.9,813.1 L841.4,814.3 L842.1,815.5 L843.1,816.5 L844.1,817.4 L845.3,818.2 L846.5,818.9 L847.7,819.6 L849.0,820.2 L850.3,820.7 L851.6,821.1 L853.0,821.4 L854.3,821.7 L855.7,822.0 L857.1,822.3 L858.5,822.5 L859.8,822.7 L861.2,822.9 L862.6,823.1 L864.0,823.3 L865.4,823.5 L866.8,823.7 L868.1,824.0 L869.5,824.2 L870.9,824.4 L872.3,824.6 L873.7,824.8 L875.1,825.0 L876.5,825.1 L877.8,825.3 L879.2,825.5 L880.6,825.7 L882.0,826.0 L883.4,826.2 L884.7,826.5 L886.1,826.8 L887.5,827.1 L888.8,827.4 L890.2,827.7 L891.6,828.1 L892.8,828.5 L893.6,829.2 L893.5,830.0 L892.4,830.6 L891.2,831.1 L889.9,831.6 L888.5,832.1 L887.2,832.6 L885.9,833.0 L884.5,833.4 L883.2,833.8 L881.9,834.2 L880.6,834.7 L879.3,835.3 L878.1,836.1 L877.0,836.9 L876.0,837.9 L875.2,839.0 L874.7,840.2 L874.8,841.5 L875.3,842.7 L876.1,843.8 L877.0,844.9 L877.9,846.0 L878.7,847.2 L879.5,848.3 L880.3,849.5 L881.1,850.6 L881.8,851.8 L882.6,853.0 L883.4,854.2 L884.0,855.4 L884.7,856.6 L885.3,857.9 L885.9,859.1 L886.5,860.4 L887.0,861.7 L887.5,863.0 L887.9,864.4 L888.2,865.7 L888.3,867.1 L888.4,868.5 L888.4,869.9 L888.6,871.3 L888.9,872.6 L889.5,873.9 L890.2,875.1 L891.1,876.2 L892.0,877.2 L892.9,878.3 L893.9,879.3 L894.9,880.3 L895.9,881.3 L896.9,882.3 L897.8,883.3 L898.8,884.2 L899.8,885.2 L900.8,886.2 L901.9,887.2 L902.9,888.1 L904.0,889.0 L905.0,889.9 L906.1,890.8 L907.2,891.6 L908.4,892.4 L909.6,893.2 L910.8,893.9 L912.0,894.6 L913.2,895.2 L914.5,895.8 L915.8,896.4 L917.1,897.0 L918.3,897.5 L919.6,898.0 L921.0,898.5 L922.3,899.0 L923.6,899.5 L924.9,900.0 L926.2,900.4 L927.6,900.8 L928.9,901.1 L930.3,901.5 L931.7,901.8 L933.0,902.1 L934.3,902.5 L935.6,903.0 L936.8,903.8 L937.9,904.7 L938.7,905.7 L939.4,906.9 L939.9,908.2 L940.2,909.6 L940.3,911.0 L940.3,912.3 L940.0,913.7 L939.7,915.1 L939.2,916.4 L938.7,917.7 L938.2,919.0 L937.6,920.3 L937.0,921.5 L936.3,922.7 L935.6,923.9 L934.8,925.1 L934.0,926.3 L933.2,927.4 L932.4,928.5 L931.5,929.6 L930.6,930.7 L929.7,931.7 L928.7,932.7 L927.7,933.7 L926.7,934.7 L925.6,935.6 L924.5,936.5 L923.4,937.3 L922.3,938.1 L921.1,938.9 L919.9,939.7 L918.8,940.5 L917.6,941.3 L916.5,942.1 L915.4,942.9 L914.3,943.8 L913.2,944.7 L912.1,945.6 L911.0,946.5 L910.0,947.4 L908.9,948.3 L907.8,949.2 L906.8,950.1 L905.7,951.0 L904.6,951.9 L903.5,952.8 L902.5,953.7 L901.4,954.6 L900.3,955.5 L899.2,956.4 L898.2,957.3 L897.1,958.2 L896.0,959.1 L894.9,959.9 L893.8,960.8 L892.7,961.7 L891.7,962.6 L890.6,963.4 L889.5,964.3 L888.4,965.2 L887.4,966.2 L886.3,967.1 L885.4,968.1 L884.4,969.2 L883.6,970.3 L882.7,971.4 L882.0,972.5 L881.3,973.8 L880.7,975.0 L880.5,976.4 L880.7,977.7 L881.3,978.9 L882.2,979.9 L883.2,980.9 L884.1,981.9 L884.7,983.1 L884.7,984.4 L884.2,985.7 L883.5,986.8 L882.6,987.9 L881.7,989.0 L880.7,990.0 L879.8,991.0 L878.8,992.0 L877.8,993.0 L876.8,994.0 L875.8,994.9 L874.7,995.8 L873.6,996.7 L872.6,997.6 L871.5,998.5 L870.4,999.4 L869.2,1000.2 L868.1,1001.1 L867.0,1001.9 L865.9,1002.7 L864.7,1003.5 L863.6,1004.4 L862.5,1005.2 L861.3,1006.0 L860.2,1006.8 L859.0,1007.5 L857.8,1008.3 L856.7,1009.1 L855.5,1009.8 L854.3,1010.6 L853.1,1011.3 L851.9,1012.1 L850.7,1012.8 L849.5,1013.5 L848.3,1014.2 L847.1,1014.9 L845.9,1015.6 L844.7,1016.3 L843.5,1017.0 L842.2,1017.7 L841.0,1018.4 L839.8,1019.0 L838.6,1019.7 L837.3,1020.4 L836.1,1021.0 L834.8,1021.7 L833.6,1022.3 L832.4,1023.0 L831.1,1023.6 L829.9,1024.2 L828.6,1024.8 L827.3,1025.5 L826.1,1026.1 L824.8,1026.7 L823.6,1027.3 L822.3,1027.9 L821.0,1028.4 L819.7,1029.0 L818.5,1029.6 L817.2,1030.1 L815.9,1030.7 L814.6,1031.2 L813.3,1031.7 L812.0,1032.2 L810.7,1032.7 L809.4,1033.2 L808.0,1033.7 L806.7,1034.1 L805.4,1034.6 L804.1,1035.0 L802.7,1035.5 L801.4,1035.9 L800.1,1036.3 L798.7,1036.7 L797.4,1037.1 L796.0,1037.5 L794.7,1037.8 L793.3,1038.2 L792.0,1038.6 L790.6,1039.0 L789.3,1039.3 L787.9,1039.7 L786.6,1040.1 L785.2,1040.4 L783.9,1040.8 L782.5,1041.1 L781.2,1041.5 L779.8,1041.9 L778.5,1042.2 L777.1,1042.6 L775.8,1043.0 L774.4,1043.3 L773.0,1043.7 L771.7,1044.0 L770.3,1044.4 L769.0,1044.7 L767.6,1045.0 L766.3,1045.4 L764.9,1045.7 L763.5,1046.0 L762.2,1046.4 L760.8,1046.7 L759.5,1047.0 L758.1,1047.4 L756.7,1047.7 L755.4,1048.0 L754.0,1048.3 L752.6,1048.7 L751.3,1049.0 L749.9,1049.3 L748.6,1049.6 L747.2,1050.0 L745.8,1050.3 L744.5,1050.6 L743.1,1051.0 L741.8,1051.3 L740.4,1051.6 L739.0,1052.0 L737.7,1052.3 L736.3,1052.6 L735.0,1053.0 L733.6,1053.3 L732.2,1053.6 L730.9,1054.0 L729.5,1054.3 L728.2,1054.7 L726.8,1055.0 L725.5,1055.3 L724.1,1055.7 L722.7,1056.0 L721.4,1056.3 L720.0,1056.7 L718.7,1057.0 L717.3,1057.4 L715.9,1057.7 L714.6,1058.1 L713.2,1058.4 L711.9,1058.8 L710.5,1059.1 L709.2,1059.5 L707.8,1059.8 L706.5,1060.2 L705.1,1060.6 L703.8,1060.9 L702.4,1061.3 L701.1,1061.7 L699.7,1062.0 L698.4,1062.4 L697.0,1062.8 L695.7,1063.1 L694.3,1063.5 L693.0,1063.9 L691.6,1064.2 L690.3,1064.6 L688.9,1065.0 L687.6,1065.4 L686.2,1065.8 L684.9,1066.1 L683.5,1066.5 L682.2,1066.9 L680.8,1067.3 L679.5,1067.7 L678.2,1068.1 L676.8,1068.5 L675.5,1068.9 L674.1,1069.4 L672.8,1069.8 L671.5,1070.2 L670.1,1070.6 L668.8,1071.0 L667.5,1071.4 L666.1,1071.8 L664.8,1072.3 L663.4,1072.7 L662.1,1073.1 L660.8,1073.5 L659.5,1074.0 L658.1,1074.4 L656.8,1074.8 L655.5,1075.3 L654.1,1075.7 L652.8,1076.2 L651.5,1076.6 L650.2,1077.1 L648.8,1077.6 L647.5,1078.0 L646.2,1078.5 L644.9,1079.0 L643.6,1079.5 L642.3,1080.0 L641.0,1080.5 L639.7,1081.0 L638.4,1081.6 L637.1,1082.1 L635.8,1082.7 L634.5,1083.2 L633.2,1083.8 L632.0,1084.4 L630.7,1084.9 L629.4,1085.5 L628.2,1086.1 L626.9,1086.7 L625.6,1087.4 L624.4,1088.0 L623.1,1088.6 L621.9,1089.2 L620.6,1089.9 L619.4,1090.5 L618.2,1091.2 L617.0,1091.9 L615.7,1092.6 L614.5,1093.3 L613.3,1094.0 L612.1,1094.7 L611.0,1095.5 L609.8,1096.3 L608.7,1097.1 L607.5,1097.9 L606.4,1098.7 L605.3,1099.6 L604.1,1100.4 L603.0,1101.2 L601.9,1102.0 L600.7,1102.8 L599.6,1103.6 L598.4,1104.4 L597.2,1105.2 L596.1,1105.9 L594.9,1106.8 L593.8,1107.6 L592.7,1108.4 L591.7,1109.4 L590.8,1110.4 L590.3,1111.6 L590.6,1112.7 L591.5,1113.6 L592.7,1114.2 L594.1,1114.6 L595.4,1115.0 L596.8,1115.3 L598.2,1115.6 L599.5,1115.9 L600.9,1116.1 L602.3,1116.4 L603.6,1116.7 L605.0,1116.9 L606.4,1117.2 L607.8,1117.4 L609.2,1117.6 L610.6,1117.8 L611.9,1117.9 L613.3,1118.1 L614.7,1118.3 L616.1,1118.4 L617.5,1118.6 L618.9,1118.7 L620.3,1118.8 L621.7,1118.9 L623.1,1119.1 L624.5,1119.2 L625.9,1119.3 L627.3,1119.4 L628.7,1119.5 L630.1,1119.6 L631.5,1119.7 L632.9,1119.8 L634.3,1119.9 L635.6,1120.0 L637.0,1120.2 L638.4,1120.3 L639.8,1120.4 L641.2,1120.5 L642.6,1120.6 L644.0,1120.7 L645.4,1120.8 L646.8,1120.9 L648.2,1121.1 L649.6,1121.2 L651.0,1121.3 L652.4,1121.5 L653.8,1121.6 L655.2,1121.7 L656.6,1121.9 L658.0,1122.0 L659.3,1122.2 L660.7,1122.4 L662.1,1122.5 L663.5,1122.7 L664.9,1122.9 L666.3,1123.1 L667.7,1123.2 L669.1,1123.4 L670.5,1123.6 L671.8,1123.8 L673.2,1124.0 L674.6,1124.1 L676.0,1124.3 L677.4,1124.5 L678.8,1124.7 L680.2,1124.9 L681.6,1125.1 L682.9,1125.3 L684.3,1125.5 L685.7,1125.7 L687.1,1125.9 L688.5,1126.1 L689.9,1126.3 L691.3,1126.5 L692.7,1126.6 L694.0,1126.8 L695.4,1127.1 L696.8,1127.3 L698.2,1127.5 L699.6,1127.7 L701.0,1127.9 L702.3,1128.1 L703.7,1128.3 L705.1,1128.5 L706.5,1128.7 L707.9,1128.9 L709.3,1129.1 L710.7,1129.3 L712.0,1129.5 L713.4,1129.7 L714.8,1130.0 L716.2,1130.2 L717.6,1130.4 L719.0,1130.6 L720.3,1130.8 L721.7,1131.1 L723.1,1131.3 L724.5,1131.5 L725.9,1131.8 L727.2,1132.0 L728.6,1132.2 L730.0,1132.5 L731.4,1132.7 L732.8,1133.0 L734.1,1133.2 L735.5,1133.5 L736.9,1133.7 L738.3,1133.9 L739.7,1134.2 L741.0,1134.4 L742.4,1134.6 L743.8,1134.9 L745.2,1135.1 L746.6,1135.3 L747.9,1135.5 L749.3,1135.7 L750.7,1135.8 L752.1,1136.0 L753.4,1136.2 L753.9,1136.6 L753.4,1137.0 L752.1,1137.3 L750.8,1137.6 L749.4,1137.8 L748.0,1138.0 L746.6,1138.2 L745.2,1138.4 L743.8,1138.6 L742.4,1138.7 L741.1,1138.9 L739.7,1139.0 L738.3,1139.1 L736.9,1139.3 L735.5,1139.4 L734.1,1139.5 L732.7,1139.6 L731.3,1139.7 L729.9,1139.8 L728.5,1140.0 L727.1,1140.1 L725.7,1140.2 L724.3,1140.3 L722.9,1140.4 L721.5,1140.5 L720.1,1140.5 L718.7,1140.6 L717.3,1140.7 L715.9,1140.8 L714.5,1140.9 L713.1,1141.0 L711.7,1141.1 L710.3,1141.2 L708.9,1141.3 L707.5,1141.4 L706.2,1141.5 L704.8,1141.6 L703.4,1141.6 L702.0,1141.7 L700.6,1141.8 L699.2,1141.9 L697.8,1142.0 L696.4,1142.1 L695.0,1142.2 L693.6,1142.3 L692.2,1142.4 L690.8,1142.4 L689.4,1142.5 L688.0,1142.6 L686.6,1142.7 L685.2,1142.8 L683.8,1142.9 L682.4,1143.0 L681.0,1143.1 L679.6,1143.2 L678.2,1143.3 L676.8,1143.3 L675.4,1143.4 L674.0,1143.5 L672.6,1143.6 L671.2,1143.7 L669.8,1143.8 L668.4,1143.8 L667.0,1143.9 L665.6,1144.0 L664.2,1144.1 L662.8,1144.2 L661.4,1144.2 L660.0,1144.3 L658.6,1144.4 L657.2,1144.5 L655.8,1144.5 L654.4,1144.6 L653.0,1144.7 L651.7,1144.7 L650.3,1144.8 L648.9,1144.9 L647.5,1145.0 L646.1,1145.0 L644.7,1145.1 L643.3,1145.2 L641.9,1145.3 L640.5,1145.3 L639.1,1145.4 L637.7,1145.5 L636.3,1145.6 L634.9,1145.7 L633.5,1145.7 L632.1,1145.8 L630.7,1145.9 L629.3,1146.0 L627.9,1146.1 L626.5,1146.2 L625.1,1146.3 L623.7,1146.4 L622.3,1146.5 L620.9,1146.6 L619.5,1146.7 L618.1,1146.8 L616.7,1146.9 L615.3,1147.0 L613.9,1147.1 L612.5,1147.2 L611.1,1147.4 L609.7,1147.5 L608.3,1147.6 L607.0,1147.7 L605.6,1147.8 L604.2,1147.9 L602.8,1148.0 L601.4,1148.2 L600.0,1148.3 L598.6,1148.4 L597.2,1148.5 L595.8,1148.6 L594.4,1148.8 L593.0,1148.9 L591.6,1149.0 L590.2,1149.2 L588.8,1149.4 L587.4,1149.5 L586.1,1149.7 L584.7,1150.0 L583.5,1150.4 L583.0,1151.0 L583.6,1151.6 L584.8,1152.0 L586.2,1152.4 L587.5,1152.7 L588.9,1153.0 L590.3,1153.2 L591.7,1153.5 L593.0,1153.7 L594.4,1153.9 L595.8,1154.2 L597.2,1154.4 L598.6,1154.6 L600.0,1154.8 L601.3,1155.0 L602.7,1155.2 L604.1,1155.4 L605.5,1155.6 L606.9,1155.8 L608.3,1156.0 L609.7,1156.2 L611.1,1156.3 L612.4,1156.5 L613.8,1156.7 L615.2,1156.8 L616.6,1157.0 L618.0,1157.1 L619.4,1157.2 L620.8,1157.4 L622.2,1157.5 L623.6,1157.7 L625.0,1157.8 L626.4,1157.9 L627.8,1158.0 L629.2,1158.2 L630.6,1158.3 L631.9,1158.4 L633.3,1158.5 L634.7,1158.7 L636.1,1158.8 L637.5,1158.9 L638.9,1159.0 L640.3,1159.1 L641.7,1159.3 L643.1,1159.4 L644.5,1159.5 L645.9,1159.6 L647.3,1159.8 L648.7,1159.9 L650.1,1160.0 L651.5,1160.1 L652.9,1160.3 L654.3,1160.4 L655.7,1160.5 L657.0,1160.7 L658.4,1160.8 L659.8,1160.9 L661.2,1161.1 L662.6,1161.2 L664.0,1161.3 L665.4,1161.5 L666.8,1161.6 L668.2,1161.7 L669.6,1161.9 L671.0,1162.0 L672.4,1162.1 L673.8,1162.3 L675.2,1162.4 L676.6,1162.5 L678.0,1162.7 L679.3,1162.8 L680.7,1162.9 L682.1,1163.1 L683.5,1163.2 L684.9,1163.3 L686.3,1163.5 L687.7,1163.6 L689.1,1163.7 L690.5,1163.9 L691.9,1164.0 L693.3,1164.1 L694.7,1164.3 L696.1,1164.4 L697.5,1164.6 L698.9,1164.7 L700.2,1164.8 L701.6,1165.0 L703.0,1165.1 L704.4,1165.3 L705.8,1165.4 L707.2,1165.6 L708.6,1165.7 L710.0,1165.9 L711.4,1166.0 L712.8,1166.2 L714.2,1166.3 L715.6,1166.5 L716.9,1166.7 L718.3,1166.8 L719.7,1167.0 L721.1,1167.1 L722.5,1167.3 L723.9,1167.5 L725.3,1167.6 L726.7,1167.8 L728.1,1167.9 L729.5,1168.1 L730.9,1168.3 L732.2,1168.4 L733.6,1168.6 L735.0,1168.8 L736.4,1169.0 L737.8,1169.2 L739.2,1169.4 L740.6,1169.6 L742.0,1169.8 L743.3,1170.0 L744.7,1170.3 L746.1,1170.6 L747.4,1170.9 L748.8,1171.3 L750.1,1171.7 L751.3,1172.2 L751.9,1172.9 L751.5,1173.7 L750.3,1174.3 L749.0,1174.7 L747.7,1175.1 L746.3,1175.5 L744.9,1175.8 L743.6,1176.1 L742.2,1176.4 L740.8,1176.6 L739.4,1176.8 L738.1,1177.0 L736.7,1177.2 L735.3,1177.4 L733.9,1177.6 L732.5,1177.7 L731.1,1177.9 L729.7,1178.0 L728.3,1178.2 L726.9,1178.3 L725.5,1178.4 L724.1,1178.6 L722.7,1178.7 L721.4,1178.8 L720.0,1178.9 L718.6,1179.0 L717.2,1179.1 L715.8,1179.2 L714.4,1179.3 L713.0,1179.4 L711.6,1179.5 L710.2,1179.6 L708.8,1179.7 L707.4,1179.8 L706.0,1179.9 L704.6,1180.0 L703.2,1180.1 L701.8,1180.2 L700.4,1180.3 L699.0,1180.4 L697.6,1180.5 L696.2,1180.6 L694.8,1180.7 L693.4,1180.8 L692.0,1180.9 L690.6,1181.0 L689.2,1181.1 L687.8,1181.2 L686.4,1181.3 L685.0,1181.4 L683.7,1181.6 L682.3,1181.7 L680.9,1181.8 L679.5,1181.9 L678.1,1182.0 L676.7,1182.1 L675.3,1182.2 L673.9,1182.3 L672.5,1182.4 L671.1,1182.5 L669.7,1182.6 L668.3,1182.7 L666.9,1182.8 L665.5,1182.9 L664.1,1183.0 L662.7,1183.1 L661.3,1183.2 L659.9,1183.3 L658.5,1183.4 L657.1,1183.5 L655.7,1183.6 L654.3,1183.7 L652.9,1183.7 L651.5,1183.8 L650.1,1183.9 L648.7,1184.0 L647.3,1184.1 L645.9,1184.2 L644.6,1184.3 L643.2,1184.4 L641.8,1184.5 L640.4,1184.6 L639.0,1184.7 L637.6,1184.8 L636.2,1184.9 L634.8,1185.0 L633.4,1185.2 L632.0,1185.3 L630.6,1185.4 L629.2,1185.5 L627.8,1185.7 L626.4,1185.8 L625.0,1186.0 L623.6,1186.1 L622.2,1186.3 L620.8,1186.4 L619.5,1186.6 L618.1,1186.8 L616.7,1187.0 L615.3,1187.3 L613.9,1187.5 L612.5,1187.7 L611.2,1188.0 L609.8,1188.2 L608.4,1188.5 L607.0,1188.7 L605.7,1189.0 L604.3,1189.3 L602.9,1189.6 L601.6,1190.0 L600.2,1190.4 L598.9,1190.8 L597.6,1191.3 L596.3,1191.9 L595.1,1192.5 L593.9,1193.2 L592.8,1194.1 L591.7,1195.0 L590.7,1196.0 L589.9,1197.1 L589.3,1198.3 L589.0,1199.6 L589.1,1200.9 L589.7,1202.2 L590.3,1203.4 L591.1,1204.6 L591.8,1205.8 L592.5,1207.0 L593.1,1208.3 L593.8,1209.5" fill="none" stroke="#d95319" stroke-width="3.6" stroke-linejoin="round" stroke-linecap="round"/></g>
<polygon points="412.4,102.9 463.5,128.2 463.5,194.9 412.4,220.2 361.4,194.9 361.4,128.2" fill="none" stroke="#000" stroke-width="2.5" stroke-linejoin="miter"/>
<text transform="translate(102.44,49.71) scale(0.975,1)" font-size="34.95">0</text>
<text transform="translate(93.74,193.88) scale(0.975,1)" font-size="34.95">-5</text>
<text transform="translate(78.29,336.61) scale(0.975,1)" font-size="34.95">-10</text>
<text transform="translate(78.29,483.73) scale(0.975,1)" font-size="34.95">-15</text>
<text transform="translate(103.64,693.71) scale(0.975,1)" font-size="34.95">0</text>
<text transform="translate(78.59,782.61) scale(0.975,1)" font-size="34.95">-10</text>
<text transform="translate(78.59,867.11) scale(0.975,1)" font-size="34.95">-20</text>
<text transform="translate(78.59,954.06) scale(0.975,1)" font-size="34.95">-30</text>
<text transform="translate(78.59,1042.36) scale(0.975,1)" font-size="34.95">-40</text>
<text transform="translate(78.04,1129.31) scale(0.975,1)" font-size="34.95">-50</text>
<text transform="translate(78.04,1212.26) scale(0.975,1)" font-size="34.95">-60</text>
<text transform="translate(122.3,594.93) scale(1.04,1)" font-size="35.0" font-style="italic">κ</text>
<text transform="translate(418.15,594.71) scale(1.04,1)" font-size="35.0" font-style="italic">m</text>
<text transform="translate(506.35,594.33) scale(1.04,1)" font-size="35.0" font-style="italic">κ’</text>
<text transform="translate(124.3,1243.62) scale(1.04,1)" font-size="35.0" font-style="italic">κ</text>
<text transform="translate(419.95,1243.11) scale(1.04,1)" font-size="35.0" font-style="italic">m</text>
<text transform="translate(508.3,1242.98) scale(1.04,1)" font-size="35.0" font-style="italic">κ’</text>
<text transform="translate(595.3,600.89) scale(0.99,1)" font-size="34.6">-0.4</text>
<text transform="translate(689.14,600.99) scale(0.99,1)" font-size="34.6">-0.2</text>
<text transform="translate(809.99,600.94) scale(0.99,1)" font-size="34.6">0</text>
<text transform="translate(900.61,600.94) scale(0.99,1)" font-size="34.6">0.2</text>
<text transform="translate(557.22,1242.74) scale(0.99,1)" font-size="34.6">-10</text>
<text transform="translate(723.01,1242.96) scale(0.99,1)" font-size="34.6">-5</text>
<text transform="translate(879.74,1243.14) scale(0.99,1)" font-size="34.6">0</text>
<text transform="translate(44.82,392.53) rotate(-90) scale(0.9857,1)" font-size="34.65" style="fill:#000;stroke:#000">Energy (meV)</text>
<text transform="translate(44.82,1042.47) rotate(-90) scale(0.9646,1)" font-size="34.65" style="fill:#000;stroke:#000">Energy (meV)</text>
<text transform="translate(471.41,131.43) scale(1.0,1)" font-size="28.6" font-style="italic">κ</text>
<text transform="translate(471.24,166.65) scale(1.0,1)" font-size="28.6" font-style="italic">m</text>
<text transform="translate(472.42,207.17) scale(1.0,1)" font-size="28.6" font-style="italic">κ’</text>
<text transform="translate(614.67,79.16) scale(1.1233,1)" font-size="34.32" font-style="italic">θ</text>
<text transform="translate(643.06,80.48) scale(1.1185,1)" font-size="32.81">=</text>
<text transform="translate(673.2,79.0) scale(1.0184,1)" font-size="34.0">1.2</text>
<text transform="translate(720.02,66.89) scale(1.1579,1)" font-size="21.09">o</text>
<text transform="translate(608.33,151.16) scale(0.9954,1)" font-size="34.44">σ</text>
<text transform="translate(629.39,133.4) scale(1.0105,1)" font-size="20.0">sys</text>
<text transform="translate(628.63,162.8) scale(0.9874,1)" font-size="21.16">H</text>
<text transform="translate(666.27,151.18) scale(0.8767,1)" font-size="34.87">(</text>
<text transform="translate(676.33,151.84) scale(1.0231,1)" font-size="36.36">e</text>
<text transform="translate(696.01,139.8) scale(1.1716,1)" font-size="18.57">2</text>
<text transform="translate(708.0,151.16) scale(1.147,1)" font-size="33.61">/</text>
<text transform="translate(717.08,151.8) scale(1.0426,1)" font-size="34.48">h</text>
<text transform="translate(737.28,151.18) scale(0.9266,1)" font-size="34.87">)</text>
<text transform="translate(617.06,737.66) scale(1.1249,1)" font-size="34.46" font-style="italic">θ</text>
<text transform="translate(645.88,739.58) scale(1.1122,1)" font-size="32.81">=</text>
<text transform="translate(674.82,738.26) scale(1.0817,1)" font-size="34.23">3</text>
<text transform="translate(694.22,723.91) scale(1.2915,1)" font-size="18.91">o</text>
<text transform="translate(608.33,810.16) scale(0.9954,1)" font-size="34.44">σ</text>
<text transform="translate(629.39,792.4) scale(1.0105,1)" font-size="20.0">sys</text>
<text transform="translate(628.63,821.8) scale(0.9874,1)" font-size="21.16">H</text>
<text transform="translate(666.27,810.18) scale(0.8767,1)" font-size="34.87">(</text>
<text transform="translate(676.33,810.84) scale(1.0231,1)" font-size="36.36">e</text>
<text transform="translate(696.01,798.8) scale(1.1716,1)" font-size="18.57">2</text>
<text transform="translate(708.0,810.16) scale(1.147,1)" font-size="33.61">/</text>
<text transform="translate(717.08,810.8) scale(1.0426,1)" font-size="34.48">h</text>
<text transform="translate(737.28,810.18) scale(0.9266,1)" font-size="34.87">)</text>
<path d="M287.20,578.80 C288.50,576.80 290.60,577.10 291.30,579.60 L294.30,590.80" fill="none" stroke="#231815" stroke-width="2.90" stroke-linecap="butt"/><path d="M304.20,577.10 L294.30,591.40 L291.70,601.20" fill="none" stroke="#231815" stroke-width="2.90" stroke-linecap="butt"/>
<path d="M289.20,1227.80 C290.50,1225.80 292.60,1226.10 293.30,1228.60 L296.30,1239.80" fill="none" stroke="#231815" stroke-width="2.90" stroke-linecap="butt"/><path d="M306.20,1226.10 L296.30,1240.40 L293.70,1250.20" fill="none" stroke="#231815" stroke-width="2.90" stroke-linecap="butt"/>
<path d="M409.26,153.28 C410.35,151.60 412.11,151.86 412.70,153.96 L415.22,163.36" fill="none" stroke="#231815" stroke-width="2.44" stroke-linecap="butt"/><path d="M423.54,151.86 L415.22,163.87 L413.04,172.10" fill="none" stroke="#231815" stroke-width="2.44" stroke-linecap="butt"/>
<text x="-2.7" y="22.6" font-size="41.5" font-weight="bold" style="fill:#000;stroke:none">a</text>
<text x="-2.6" y="652.1" font-size="41" font-weight="bold" style="fill:#000;stroke:none">b</text>
</svg></body></html>
